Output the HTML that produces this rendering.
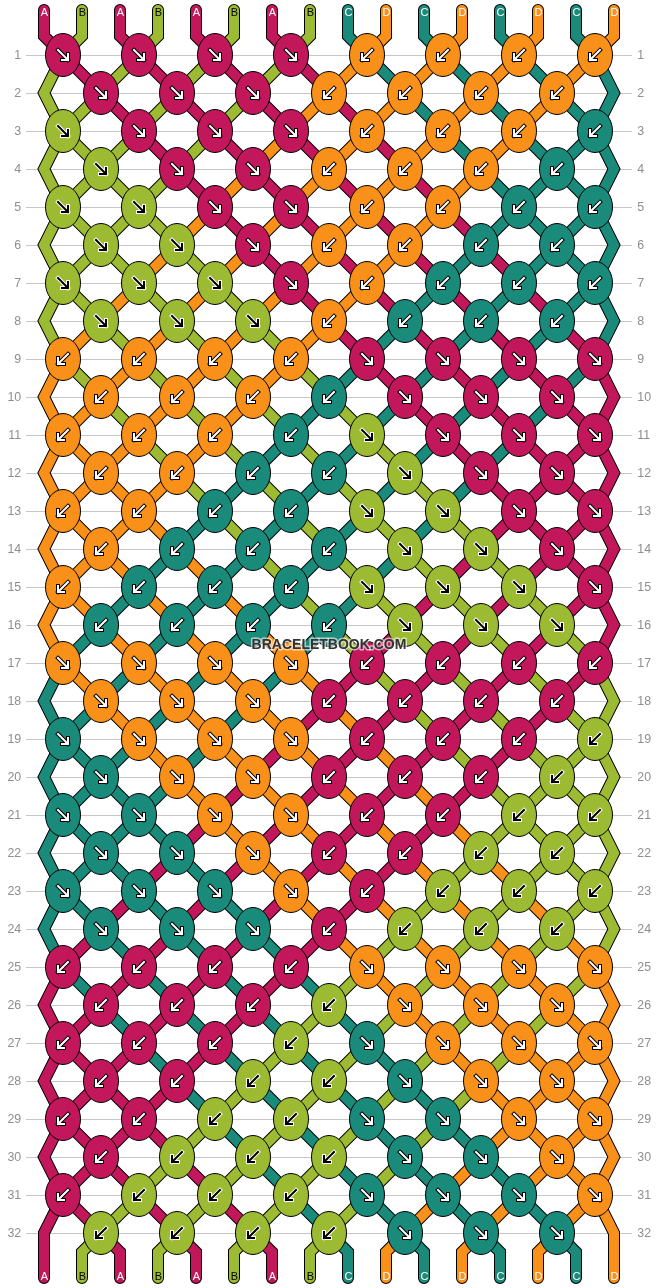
<!DOCTYPE html>
<html><head><meta charset="utf-8"><title>Bracelet pattern</title>
<style>html,body{margin:0;padding:0;background:#fff}svg{display:block}</style>
</head><body>
<svg width="658" height="1288" viewBox="0 0 658 1288">
<rect width="658" height="1288" fill="#fff"/>
<g stroke="#c6c6c6" stroke-width="1">
<line x1="26" y1="55.5" x2="632" y2="55.5"/>
<line x1="26" y1="93.5" x2="632" y2="93.5"/>
<line x1="26" y1="131.5" x2="632" y2="131.5"/>
<line x1="26" y1="169.5" x2="632" y2="169.5"/>
<line x1="26" y1="207.5" x2="632" y2="207.5"/>
<line x1="26" y1="245.5" x2="632" y2="245.5"/>
<line x1="26" y1="283.5" x2="632" y2="283.5"/>
<line x1="26" y1="321.5" x2="632" y2="321.5"/>
<line x1="26" y1="359.5" x2="632" y2="359.5"/>
<line x1="26" y1="397.5" x2="632" y2="397.5"/>
<line x1="26" y1="435.5" x2="632" y2="435.5"/>
<line x1="26" y1="473.5" x2="632" y2="473.5"/>
<line x1="26" y1="511.5" x2="632" y2="511.5"/>
<line x1="26" y1="549.5" x2="632" y2="549.5"/>
<line x1="26" y1="587.5" x2="632" y2="587.5"/>
<line x1="26" y1="625.5" x2="632" y2="625.5"/>
<line x1="26" y1="663.5" x2="632" y2="663.5"/>
<line x1="26" y1="701.5" x2="632" y2="701.5"/>
<line x1="26" y1="739.5" x2="632" y2="739.5"/>
<line x1="26" y1="777.5" x2="632" y2="777.5"/>
<line x1="26" y1="815.5" x2="632" y2="815.5"/>
<line x1="26" y1="853.5" x2="632" y2="853.5"/>
<line x1="26" y1="891.5" x2="632" y2="891.5"/>
<line x1="26" y1="929.5" x2="632" y2="929.5"/>
<line x1="26" y1="967.5" x2="632" y2="967.5"/>
<line x1="26" y1="1005.5" x2="632" y2="1005.5"/>
<line x1="26" y1="1043.5" x2="632" y2="1043.5"/>
<line x1="26" y1="1081.5" x2="632" y2="1081.5"/>
<line x1="26" y1="1119.5" x2="632" y2="1119.5"/>
<line x1="26" y1="1157.5" x2="632" y2="1157.5"/>
<line x1="26" y1="1195.5" x2="632" y2="1195.5"/>
<line x1="26" y1="1233.5" x2="632" y2="1233.5"/>
</g>
<g font-family="Liberation Sans, Arial, sans-serif" font-size="12.4" fill="#8e8e8e">
<text x="21.2" y="59" text-anchor="end">1</text>
<text x="637.3" y="59">1</text>
<text x="21.2" y="97" text-anchor="end">2</text>
<text x="637.3" y="97">2</text>
<text x="21.2" y="135" text-anchor="end">3</text>
<text x="637.3" y="135">3</text>
<text x="21.2" y="173" text-anchor="end">4</text>
<text x="637.3" y="173">4</text>
<text x="21.2" y="211" text-anchor="end">5</text>
<text x="637.3" y="211">5</text>
<text x="21.2" y="249" text-anchor="end">6</text>
<text x="637.3" y="249">6</text>
<text x="21.2" y="287" text-anchor="end">7</text>
<text x="637.3" y="287">7</text>
<text x="21.2" y="325" text-anchor="end">8</text>
<text x="637.3" y="325">8</text>
<text x="21.2" y="363" text-anchor="end">9</text>
<text x="637.3" y="363">9</text>
<text x="21.2" y="401" text-anchor="end">10</text>
<text x="637.3" y="401">10</text>
<text x="21.2" y="439" text-anchor="end">11</text>
<text x="637.3" y="439">11</text>
<text x="21.2" y="477" text-anchor="end">12</text>
<text x="637.3" y="477">12</text>
<text x="21.2" y="515" text-anchor="end">13</text>
<text x="637.3" y="515">13</text>
<text x="21.2" y="553" text-anchor="end">14</text>
<text x="637.3" y="553">14</text>
<text x="21.2" y="591" text-anchor="end">15</text>
<text x="637.3" y="591">15</text>
<text x="21.2" y="629" text-anchor="end">16</text>
<text x="637.3" y="629">16</text>
<text x="21.2" y="667" text-anchor="end">17</text>
<text x="637.3" y="667">17</text>
<text x="21.2" y="705" text-anchor="end">18</text>
<text x="637.3" y="705">18</text>
<text x="21.2" y="743" text-anchor="end">19</text>
<text x="637.3" y="743">19</text>
<text x="21.2" y="781" text-anchor="end">20</text>
<text x="637.3" y="781">20</text>
<text x="21.2" y="819" text-anchor="end">21</text>
<text x="637.3" y="819">21</text>
<text x="21.2" y="857" text-anchor="end">22</text>
<text x="637.3" y="857">22</text>
<text x="21.2" y="895" text-anchor="end">23</text>
<text x="637.3" y="895">23</text>
<text x="21.2" y="933" text-anchor="end">24</text>
<text x="637.3" y="933">24</text>
<text x="21.2" y="971" text-anchor="end">25</text>
<text x="637.3" y="971">25</text>
<text x="21.2" y="1009" text-anchor="end">26</text>
<text x="637.3" y="1009">26</text>
<text x="21.2" y="1047" text-anchor="end">27</text>
<text x="637.3" y="1047">27</text>
<text x="21.2" y="1085" text-anchor="end">28</text>
<text x="637.3" y="1085">28</text>
<text x="21.2" y="1123" text-anchor="end">29</text>
<text x="637.3" y="1123">29</text>
<text x="21.2" y="1161" text-anchor="end">30</text>
<text x="637.3" y="1161">30</text>
<text x="21.2" y="1199" text-anchor="end">31</text>
<text x="637.3" y="1199">31</text>
<text x="21.2" y="1237" text-anchor="end">32</text>
<text x="637.3" y="1237">32</text>
</g>
<g fill="none" stroke-linecap="round" stroke-linejoin="miter" stroke-miterlimit="10">
<path d="M44 10 L44 36 L63 55 L101 93 L139 131 L177 169 L215 207 L253 245 L291 283 L329 321 L367 359 L405 397 L443 435 L481 473 L519 511 L557 549 L595 587 L614 625 L595 663 L557 701 L519 739 L481 777 L443 815 L405 853 L367 891 L329 929 L291 967 L253 1005 L215 1043 L177 1081 L139 1119 L101 1157 L63 1195 L44 1233 L44 1278" stroke="#000" stroke-width="12"/>
<path d="M44 10 L44 36 L63 55 L101 93 L139 131 L177 169 L215 207 L253 245 L291 283 L329 321 L367 359 L405 397 L443 435 L481 473 L519 511 L557 549 L595 587 L614 625 L595 663 L557 701 L519 739 L481 777 L443 815 L405 853 L367 891 L329 929 L291 967 L253 1005 L215 1043 L177 1081 L139 1119 L101 1157 L63 1195 L44 1233 L44 1278" stroke="#C2185B" stroke-width="10"/>
<path d="M82 10 L82 36 L63 55 L44 93 L63 131 L101 169 L139 207 L177 245 L215 283 L253 321 L291 359 L329 397 L367 435 L405 473 L443 511 L481 549 L519 587 L557 625 L595 663 L614 701 L595 739 L557 777 L519 815 L481 853 L443 891 L405 929 L367 967 L329 1005 L291 1043 L253 1081 L215 1119 L177 1157 L139 1195 L101 1233 L82 1252 L82 1278" stroke="#000" stroke-width="12"/>
<path d="M82 10 L82 36 L63 55 L44 93 L63 131 L101 169 L139 207 L177 245 L215 283 L253 321 L291 359 L329 397 L367 435 L405 473 L443 511 L481 549 L519 587 L557 625 L595 663 L614 701 L595 739 L557 777 L519 815 L481 853 L443 891 L405 929 L367 967 L329 1005 L291 1043 L253 1081 L215 1119 L177 1157 L139 1195 L101 1233 L82 1252 L82 1278" stroke="#9CBB33" stroke-width="10"/>
<path d="M120 10 L120 36 L139 55 L177 93 L215 131 L253 169 L291 207 L329 245 L367 283 L405 321 L443 359 L481 397 L519 435 L557 473 L595 511 L614 549 L595 587 L557 625 L519 663 L481 701 L443 739 L405 777 L367 815 L329 853 L291 891 L253 929 L215 967 L177 1005 L139 1043 L101 1081 L63 1119 L44 1157 L63 1195 L101 1233 L120 1252 L120 1278" stroke="#000" stroke-width="12"/>
<path d="M120 10 L120 36 L139 55 L177 93 L215 131 L253 169 L291 207 L329 245 L367 283 L405 321 L443 359 L481 397 L519 435 L557 473 L595 511 L614 549 L595 587 L557 625 L519 663 L481 701 L443 739 L405 777 L367 815 L329 853 L291 891 L253 929 L215 967 L177 1005 L139 1043 L101 1081 L63 1119 L44 1157 L63 1195 L101 1233 L120 1252 L120 1278" stroke="#C2185B" stroke-width="10"/>
<path d="M158 10 L158 36 L139 55 L101 93 L63 131 L44 169 L63 207 L101 245 L139 283 L177 321 L215 359 L253 397 L291 435 L329 473 L367 511 L405 549 L443 587 L481 625 L519 663 L557 701 L595 739 L614 777 L595 815 L557 853 L519 891 L481 929 L443 967 L405 1005 L367 1043 L329 1081 L291 1119 L253 1157 L215 1195 L177 1233 L158 1252 L158 1278" stroke="#000" stroke-width="12"/>
<path d="M158 10 L158 36 L139 55 L101 93 L63 131 L44 169 L63 207 L101 245 L139 283 L177 321 L215 359 L253 397 L291 435 L329 473 L367 511 L405 549 L443 587 L481 625 L519 663 L557 701 L595 739 L614 777 L595 815 L557 853 L519 891 L481 929 L443 967 L405 1005 L367 1043 L329 1081 L291 1119 L253 1157 L215 1195 L177 1233 L158 1252 L158 1278" stroke="#9CBB33" stroke-width="10"/>
<path d="M196 10 L196 36 L215 55 L253 93 L291 131 L329 169 L367 207 L405 245 L443 283 L481 321 L519 359 L557 397 L595 435 L614 473 L595 511 L557 549 L519 587 L481 625 L443 663 L405 701 L367 739 L329 777 L291 815 L253 853 L215 891 L177 929 L139 967 L101 1005 L63 1043 L44 1081 L63 1119 L101 1157 L139 1195 L177 1233 L196 1252 L196 1278" stroke="#000" stroke-width="12"/>
<path d="M196 10 L196 36 L215 55 L253 93 L291 131 L329 169 L367 207 L405 245 L443 283 L481 321 L519 359 L557 397 L595 435 L614 473 L595 511 L557 549 L519 587 L481 625 L443 663 L405 701 L367 739 L329 777 L291 815 L253 853 L215 891 L177 929 L139 967 L101 1005 L63 1043 L44 1081 L63 1119 L101 1157 L139 1195 L177 1233 L196 1252 L196 1278" stroke="#C2185B" stroke-width="10"/>
<path d="M234 10 L234 36 L215 55 L177 93 L139 131 L101 169 L63 207 L44 245 L63 283 L101 321 L139 359 L177 397 L215 435 L253 473 L291 511 L329 549 L367 587 L405 625 L443 663 L481 701 L519 739 L557 777 L595 815 L614 853 L595 891 L557 929 L519 967 L481 1005 L443 1043 L405 1081 L367 1119 L329 1157 L291 1195 L253 1233 L234 1252 L234 1278" stroke="#000" stroke-width="12"/>
<path d="M234 10 L234 36 L215 55 L177 93 L139 131 L101 169 L63 207 L44 245 L63 283 L101 321 L139 359 L177 397 L215 435 L253 473 L291 511 L329 549 L367 587 L405 625 L443 663 L481 701 L519 739 L557 777 L595 815 L614 853 L595 891 L557 929 L519 967 L481 1005 L443 1043 L405 1081 L367 1119 L329 1157 L291 1195 L253 1233 L234 1252 L234 1278" stroke="#9CBB33" stroke-width="10"/>
<path d="M272 10 L272 36 L291 55 L329 93 L367 131 L405 169 L443 207 L481 245 L519 283 L557 321 L595 359 L614 397 L595 435 L557 473 L519 511 L481 549 L443 587 L405 625 L367 663 L329 701 L291 739 L253 777 L215 815 L177 853 L139 891 L101 929 L63 967 L44 1005 L63 1043 L101 1081 L139 1119 L177 1157 L215 1195 L253 1233 L272 1252 L272 1278" stroke="#000" stroke-width="12"/>
<path d="M272 10 L272 36 L291 55 L329 93 L367 131 L405 169 L443 207 L481 245 L519 283 L557 321 L595 359 L614 397 L595 435 L557 473 L519 511 L481 549 L443 587 L405 625 L367 663 L329 701 L291 739 L253 777 L215 815 L177 853 L139 891 L101 929 L63 967 L44 1005 L63 1043 L101 1081 L139 1119 L177 1157 L215 1195 L253 1233 L272 1252 L272 1278" stroke="#C2185B" stroke-width="10"/>
<path d="M310 10 L310 36 L291 55 L253 93 L215 131 L177 169 L139 207 L101 245 L63 283 L44 321 L63 359 L101 397 L139 435 L177 473 L215 511 L253 549 L291 587 L329 625 L367 663 L405 701 L443 739 L481 777 L519 815 L557 853 L595 891 L614 929 L595 967 L557 1005 L519 1043 L481 1081 L443 1119 L405 1157 L367 1195 L329 1233 L310 1252 L310 1278" stroke="#000" stroke-width="12"/>
<path d="M310 10 L310 36 L291 55 L253 93 L215 131 L177 169 L139 207 L101 245 L63 283 L44 321 L63 359 L101 397 L139 435 L177 473 L215 511 L253 549 L291 587 L329 625 L367 663 L405 701 L443 739 L481 777 L519 815 L557 853 L595 891 L614 929 L595 967 L557 1005 L519 1043 L481 1081 L443 1119 L405 1157 L367 1195 L329 1233 L310 1252 L310 1278" stroke="#9CBB33" stroke-width="10"/>
<path d="M348 10 L348 36 L367 55 L405 93 L443 131 L481 169 L519 207 L557 245 L595 283 L614 321 L595 359 L557 397 L519 435 L481 473 L443 511 L405 549 L367 587 L329 625 L291 663 L253 701 L215 739 L177 777 L139 815 L101 853 L63 891 L44 929 L63 967 L101 1005 L139 1043 L177 1081 L215 1119 L253 1157 L291 1195 L329 1233 L348 1252 L348 1278" stroke="#000" stroke-width="12"/>
<path d="M348 10 L348 36 L367 55 L405 93 L443 131 L481 169 L519 207 L557 245 L595 283 L614 321 L595 359 L557 397 L519 435 L481 473 L443 511 L405 549 L367 587 L329 625 L291 663 L253 701 L215 739 L177 777 L139 815 L101 853 L63 891 L44 929 L63 967 L101 1005 L139 1043 L177 1081 L215 1119 L253 1157 L291 1195 L329 1233 L348 1252 L348 1278" stroke="#1A8A7B" stroke-width="10"/>
<path d="M386 10 L386 36 L367 55 L329 93 L291 131 L253 169 L215 207 L177 245 L139 283 L101 321 L63 359 L44 397 L63 435 L101 473 L139 511 L177 549 L215 587 L253 625 L291 663 L329 701 L367 739 L405 777 L443 815 L481 853 L519 891 L557 929 L595 967 L614 1005 L595 1043 L557 1081 L519 1119 L481 1157 L443 1195 L405 1233 L386 1252 L386 1278" stroke="#000" stroke-width="12"/>
<path d="M386 10 L386 36 L367 55 L329 93 L291 131 L253 169 L215 207 L177 245 L139 283 L101 321 L63 359 L44 397 L63 435 L101 473 L139 511 L177 549 L215 587 L253 625 L291 663 L329 701 L367 739 L405 777 L443 815 L481 853 L519 891 L557 929 L595 967 L614 1005 L595 1043 L557 1081 L519 1119 L481 1157 L443 1195 L405 1233 L386 1252 L386 1278" stroke="#F9901A" stroke-width="10"/>
<path d="M424 10 L424 36 L443 55 L481 93 L519 131 L557 169 L595 207 L614 245 L595 283 L557 321 L519 359 L481 397 L443 435 L405 473 L367 511 L329 549 L291 587 L253 625 L215 663 L177 701 L139 739 L101 777 L63 815 L44 853 L63 891 L101 929 L139 967 L177 1005 L215 1043 L253 1081 L291 1119 L329 1157 L367 1195 L405 1233 L424 1252 L424 1278" stroke="#000" stroke-width="12"/>
<path d="M424 10 L424 36 L443 55 L481 93 L519 131 L557 169 L595 207 L614 245 L595 283 L557 321 L519 359 L481 397 L443 435 L405 473 L367 511 L329 549 L291 587 L253 625 L215 663 L177 701 L139 739 L101 777 L63 815 L44 853 L63 891 L101 929 L139 967 L177 1005 L215 1043 L253 1081 L291 1119 L329 1157 L367 1195 L405 1233 L424 1252 L424 1278" stroke="#1A8A7B" stroke-width="10"/>
<path d="M462 10 L462 36 L443 55 L405 93 L367 131 L329 169 L291 207 L253 245 L215 283 L177 321 L139 359 L101 397 L63 435 L44 473 L63 511 L101 549 L139 587 L177 625 L215 663 L253 701 L291 739 L329 777 L367 815 L405 853 L443 891 L481 929 L519 967 L557 1005 L595 1043 L614 1081 L595 1119 L557 1157 L519 1195 L481 1233 L462 1252 L462 1278" stroke="#000" stroke-width="12"/>
<path d="M462 10 L462 36 L443 55 L405 93 L367 131 L329 169 L291 207 L253 245 L215 283 L177 321 L139 359 L101 397 L63 435 L44 473 L63 511 L101 549 L139 587 L177 625 L215 663 L253 701 L291 739 L329 777 L367 815 L405 853 L443 891 L481 929 L519 967 L557 1005 L595 1043 L614 1081 L595 1119 L557 1157 L519 1195 L481 1233 L462 1252 L462 1278" stroke="#F9901A" stroke-width="10"/>
<path d="M500 10 L500 36 L519 55 L557 93 L595 131 L614 169 L595 207 L557 245 L519 283 L481 321 L443 359 L405 397 L367 435 L329 473 L291 511 L253 549 L215 587 L177 625 L139 663 L101 701 L63 739 L44 777 L63 815 L101 853 L139 891 L177 929 L215 967 L253 1005 L291 1043 L329 1081 L367 1119 L405 1157 L443 1195 L481 1233 L500 1252 L500 1278" stroke="#000" stroke-width="12"/>
<path d="M500 10 L500 36 L519 55 L557 93 L595 131 L614 169 L595 207 L557 245 L519 283 L481 321 L443 359 L405 397 L367 435 L329 473 L291 511 L253 549 L215 587 L177 625 L139 663 L101 701 L63 739 L44 777 L63 815 L101 853 L139 891 L177 929 L215 967 L253 1005 L291 1043 L329 1081 L367 1119 L405 1157 L443 1195 L481 1233 L500 1252 L500 1278" stroke="#1A8A7B" stroke-width="10"/>
<path d="M538 10 L538 36 L519 55 L481 93 L443 131 L405 169 L367 207 L329 245 L291 283 L253 321 L215 359 L177 397 L139 435 L101 473 L63 511 L44 549 L63 587 L101 625 L139 663 L177 701 L215 739 L253 777 L291 815 L329 853 L367 891 L405 929 L443 967 L481 1005 L519 1043 L557 1081 L595 1119 L614 1157 L595 1195 L557 1233 L538 1252 L538 1278" stroke="#000" stroke-width="12"/>
<path d="M538 10 L538 36 L519 55 L481 93 L443 131 L405 169 L367 207 L329 245 L291 283 L253 321 L215 359 L177 397 L139 435 L101 473 L63 511 L44 549 L63 587 L101 625 L139 663 L177 701 L215 739 L253 777 L291 815 L329 853 L367 891 L405 929 L443 967 L481 1005 L519 1043 L557 1081 L595 1119 L614 1157 L595 1195 L557 1233 L538 1252 L538 1278" stroke="#F9901A" stroke-width="10"/>
<path d="M576 10 L576 36 L595 55 L614 93 L595 131 L557 169 L519 207 L481 245 L443 283 L405 321 L367 359 L329 397 L291 435 L253 473 L215 511 L177 549 L139 587 L101 625 L63 663 L44 701 L63 739 L101 777 L139 815 L177 853 L215 891 L253 929 L291 967 L329 1005 L367 1043 L405 1081 L443 1119 L481 1157 L519 1195 L557 1233 L576 1252 L576 1278" stroke="#000" stroke-width="12"/>
<path d="M576 10 L576 36 L595 55 L614 93 L595 131 L557 169 L519 207 L481 245 L443 283 L405 321 L367 359 L329 397 L291 435 L253 473 L215 511 L177 549 L139 587 L101 625 L63 663 L44 701 L63 739 L101 777 L139 815 L177 853 L215 891 L253 929 L291 967 L329 1005 L367 1043 L405 1081 L443 1119 L481 1157 L519 1195 L557 1233 L576 1252 L576 1278" stroke="#1A8A7B" stroke-width="10"/>
<path d="M614 10 L614 36 L595 55 L557 93 L519 131 L481 169 L443 207 L405 245 L367 283 L329 321 L291 359 L253 397 L215 435 L177 473 L139 511 L101 549 L63 587 L44 625 L63 663 L101 701 L139 739 L177 777 L215 815 L253 853 L291 891 L329 929 L367 967 L405 1005 L443 1043 L481 1081 L519 1119 L557 1157 L595 1195 L614 1233 L614 1278" stroke="#000" stroke-width="12"/>
<path d="M614 10 L614 36 L595 55 L557 93 L519 131 L481 169 L443 207 L405 245 L367 283 L329 321 L291 359 L253 397 L215 435 L177 473 L139 511 L101 549 L63 587 L44 625 L63 663 L101 701 L139 739 L177 777 L215 815 L253 853 L291 891 L329 929 L367 967 L405 1005 L443 1043 L481 1081 L519 1119 L557 1157 L595 1195 L614 1233 L614 1278" stroke="#F9901A" stroke-width="10"/>
</g>
<g stroke="#000" stroke-width="1">
<ellipse cx="63" cy="55" rx="17.5" ry="21.5" fill="#C2185B"/>
<ellipse cx="139" cy="55" rx="17.5" ry="21.5" fill="#C2185B"/>
<ellipse cx="215" cy="55" rx="17.5" ry="21.5" fill="#C2185B"/>
<ellipse cx="291" cy="55" rx="17.5" ry="21.5" fill="#C2185B"/>
<ellipse cx="367" cy="55" rx="17.5" ry="21.5" fill="#F9901A"/>
<ellipse cx="443" cy="55" rx="17.5" ry="21.5" fill="#F9901A"/>
<ellipse cx="519" cy="55" rx="17.5" ry="21.5" fill="#F9901A"/>
<ellipse cx="595" cy="55" rx="17.5" ry="21.5" fill="#F9901A"/>
<ellipse cx="101" cy="93" rx="17.5" ry="21.5" fill="#C2185B"/>
<ellipse cx="177" cy="93" rx="17.5" ry="21.5" fill="#C2185B"/>
<ellipse cx="253" cy="93" rx="17.5" ry="21.5" fill="#C2185B"/>
<ellipse cx="329" cy="93" rx="17.5" ry="21.5" fill="#F9901A"/>
<ellipse cx="405" cy="93" rx="17.5" ry="21.5" fill="#F9901A"/>
<ellipse cx="481" cy="93" rx="17.5" ry="21.5" fill="#F9901A"/>
<ellipse cx="557" cy="93" rx="17.5" ry="21.5" fill="#F9901A"/>
<ellipse cx="63" cy="131" rx="17.5" ry="21.5" fill="#9CBB33"/>
<ellipse cx="139" cy="131" rx="17.5" ry="21.5" fill="#C2185B"/>
<ellipse cx="215" cy="131" rx="17.5" ry="21.5" fill="#C2185B"/>
<ellipse cx="291" cy="131" rx="17.5" ry="21.5" fill="#C2185B"/>
<ellipse cx="367" cy="131" rx="17.5" ry="21.5" fill="#F9901A"/>
<ellipse cx="443" cy="131" rx="17.5" ry="21.5" fill="#F9901A"/>
<ellipse cx="519" cy="131" rx="17.5" ry="21.5" fill="#F9901A"/>
<ellipse cx="595" cy="131" rx="17.5" ry="21.5" fill="#1A8A7B"/>
<ellipse cx="101" cy="169" rx="17.5" ry="21.5" fill="#9CBB33"/>
<ellipse cx="177" cy="169" rx="17.5" ry="21.5" fill="#C2185B"/>
<ellipse cx="253" cy="169" rx="17.5" ry="21.5" fill="#C2185B"/>
<ellipse cx="329" cy="169" rx="17.5" ry="21.5" fill="#F9901A"/>
<ellipse cx="405" cy="169" rx="17.5" ry="21.5" fill="#F9901A"/>
<ellipse cx="481" cy="169" rx="17.5" ry="21.5" fill="#F9901A"/>
<ellipse cx="557" cy="169" rx="17.5" ry="21.5" fill="#1A8A7B"/>
<ellipse cx="63" cy="207" rx="17.5" ry="21.5" fill="#9CBB33"/>
<ellipse cx="139" cy="207" rx="17.5" ry="21.5" fill="#9CBB33"/>
<ellipse cx="215" cy="207" rx="17.5" ry="21.5" fill="#C2185B"/>
<ellipse cx="291" cy="207" rx="17.5" ry="21.5" fill="#C2185B"/>
<ellipse cx="367" cy="207" rx="17.5" ry="21.5" fill="#F9901A"/>
<ellipse cx="443" cy="207" rx="17.5" ry="21.5" fill="#F9901A"/>
<ellipse cx="519" cy="207" rx="17.5" ry="21.5" fill="#1A8A7B"/>
<ellipse cx="595" cy="207" rx="17.5" ry="21.5" fill="#1A8A7B"/>
<ellipse cx="101" cy="245" rx="17.5" ry="21.5" fill="#9CBB33"/>
<ellipse cx="177" cy="245" rx="17.5" ry="21.5" fill="#9CBB33"/>
<ellipse cx="253" cy="245" rx="17.5" ry="21.5" fill="#C2185B"/>
<ellipse cx="329" cy="245" rx="17.5" ry="21.5" fill="#F9901A"/>
<ellipse cx="405" cy="245" rx="17.5" ry="21.5" fill="#F9901A"/>
<ellipse cx="481" cy="245" rx="17.5" ry="21.5" fill="#1A8A7B"/>
<ellipse cx="557" cy="245" rx="17.5" ry="21.5" fill="#1A8A7B"/>
<ellipse cx="63" cy="283" rx="17.5" ry="21.5" fill="#9CBB33"/>
<ellipse cx="139" cy="283" rx="17.5" ry="21.5" fill="#9CBB33"/>
<ellipse cx="215" cy="283" rx="17.5" ry="21.5" fill="#9CBB33"/>
<ellipse cx="291" cy="283" rx="17.5" ry="21.5" fill="#C2185B"/>
<ellipse cx="367" cy="283" rx="17.5" ry="21.5" fill="#F9901A"/>
<ellipse cx="443" cy="283" rx="17.5" ry="21.5" fill="#1A8A7B"/>
<ellipse cx="519" cy="283" rx="17.5" ry="21.5" fill="#1A8A7B"/>
<ellipse cx="595" cy="283" rx="17.5" ry="21.5" fill="#1A8A7B"/>
<ellipse cx="101" cy="321" rx="17.5" ry="21.5" fill="#9CBB33"/>
<ellipse cx="177" cy="321" rx="17.5" ry="21.5" fill="#9CBB33"/>
<ellipse cx="253" cy="321" rx="17.5" ry="21.5" fill="#9CBB33"/>
<ellipse cx="329" cy="321" rx="17.5" ry="21.5" fill="#F9901A"/>
<ellipse cx="405" cy="321" rx="17.5" ry="21.5" fill="#1A8A7B"/>
<ellipse cx="481" cy="321" rx="17.5" ry="21.5" fill="#1A8A7B"/>
<ellipse cx="557" cy="321" rx="17.5" ry="21.5" fill="#1A8A7B"/>
<ellipse cx="63" cy="359" rx="17.5" ry="21.5" fill="#F9901A"/>
<ellipse cx="139" cy="359" rx="17.5" ry="21.5" fill="#F9901A"/>
<ellipse cx="215" cy="359" rx="17.5" ry="21.5" fill="#F9901A"/>
<ellipse cx="291" cy="359" rx="17.5" ry="21.5" fill="#F9901A"/>
<ellipse cx="367" cy="359" rx="17.5" ry="21.5" fill="#C2185B"/>
<ellipse cx="443" cy="359" rx="17.5" ry="21.5" fill="#C2185B"/>
<ellipse cx="519" cy="359" rx="17.5" ry="21.5" fill="#C2185B"/>
<ellipse cx="595" cy="359" rx="17.5" ry="21.5" fill="#C2185B"/>
<ellipse cx="101" cy="397" rx="17.5" ry="21.5" fill="#F9901A"/>
<ellipse cx="177" cy="397" rx="17.5" ry="21.5" fill="#F9901A"/>
<ellipse cx="253" cy="397" rx="17.5" ry="21.5" fill="#F9901A"/>
<ellipse cx="329" cy="397" rx="17.5" ry="21.5" fill="#1A8A7B"/>
<ellipse cx="405" cy="397" rx="17.5" ry="21.5" fill="#C2185B"/>
<ellipse cx="481" cy="397" rx="17.5" ry="21.5" fill="#C2185B"/>
<ellipse cx="557" cy="397" rx="17.5" ry="21.5" fill="#C2185B"/>
<ellipse cx="63" cy="435" rx="17.5" ry="21.5" fill="#F9901A"/>
<ellipse cx="139" cy="435" rx="17.5" ry="21.5" fill="#F9901A"/>
<ellipse cx="215" cy="435" rx="17.5" ry="21.5" fill="#F9901A"/>
<ellipse cx="291" cy="435" rx="17.5" ry="21.5" fill="#1A8A7B"/>
<ellipse cx="367" cy="435" rx="17.5" ry="21.5" fill="#9CBB33"/>
<ellipse cx="443" cy="435" rx="17.5" ry="21.5" fill="#C2185B"/>
<ellipse cx="519" cy="435" rx="17.5" ry="21.5" fill="#C2185B"/>
<ellipse cx="595" cy="435" rx="17.5" ry="21.5" fill="#C2185B"/>
<ellipse cx="101" cy="473" rx="17.5" ry="21.5" fill="#F9901A"/>
<ellipse cx="177" cy="473" rx="17.5" ry="21.5" fill="#F9901A"/>
<ellipse cx="253" cy="473" rx="17.5" ry="21.5" fill="#1A8A7B"/>
<ellipse cx="329" cy="473" rx="17.5" ry="21.5" fill="#1A8A7B"/>
<ellipse cx="405" cy="473" rx="17.5" ry="21.5" fill="#9CBB33"/>
<ellipse cx="481" cy="473" rx="17.5" ry="21.5" fill="#C2185B"/>
<ellipse cx="557" cy="473" rx="17.5" ry="21.5" fill="#C2185B"/>
<ellipse cx="63" cy="511" rx="17.5" ry="21.5" fill="#F9901A"/>
<ellipse cx="139" cy="511" rx="17.5" ry="21.5" fill="#F9901A"/>
<ellipse cx="215" cy="511" rx="17.5" ry="21.5" fill="#1A8A7B"/>
<ellipse cx="291" cy="511" rx="17.5" ry="21.5" fill="#1A8A7B"/>
<ellipse cx="367" cy="511" rx="17.5" ry="21.5" fill="#9CBB33"/>
<ellipse cx="443" cy="511" rx="17.5" ry="21.5" fill="#9CBB33"/>
<ellipse cx="519" cy="511" rx="17.5" ry="21.5" fill="#C2185B"/>
<ellipse cx="595" cy="511" rx="17.5" ry="21.5" fill="#C2185B"/>
<ellipse cx="101" cy="549" rx="17.5" ry="21.5" fill="#F9901A"/>
<ellipse cx="177" cy="549" rx="17.5" ry="21.5" fill="#1A8A7B"/>
<ellipse cx="253" cy="549" rx="17.5" ry="21.5" fill="#1A8A7B"/>
<ellipse cx="329" cy="549" rx="17.5" ry="21.5" fill="#1A8A7B"/>
<ellipse cx="405" cy="549" rx="17.5" ry="21.5" fill="#9CBB33"/>
<ellipse cx="481" cy="549" rx="17.5" ry="21.5" fill="#9CBB33"/>
<ellipse cx="557" cy="549" rx="17.5" ry="21.5" fill="#C2185B"/>
<ellipse cx="63" cy="587" rx="17.5" ry="21.5" fill="#F9901A"/>
<ellipse cx="139" cy="587" rx="17.5" ry="21.5" fill="#1A8A7B"/>
<ellipse cx="215" cy="587" rx="17.5" ry="21.5" fill="#1A8A7B"/>
<ellipse cx="291" cy="587" rx="17.5" ry="21.5" fill="#1A8A7B"/>
<ellipse cx="367" cy="587" rx="17.5" ry="21.5" fill="#9CBB33"/>
<ellipse cx="443" cy="587" rx="17.5" ry="21.5" fill="#9CBB33"/>
<ellipse cx="519" cy="587" rx="17.5" ry="21.5" fill="#9CBB33"/>
<ellipse cx="595" cy="587" rx="17.5" ry="21.5" fill="#C2185B"/>
<ellipse cx="101" cy="625" rx="17.5" ry="21.5" fill="#1A8A7B"/>
<ellipse cx="177" cy="625" rx="17.5" ry="21.5" fill="#1A8A7B"/>
<ellipse cx="253" cy="625" rx="17.5" ry="21.5" fill="#1A8A7B"/>
<ellipse cx="329" cy="625" rx="17.5" ry="21.5" fill="#1A8A7B"/>
<ellipse cx="405" cy="625" rx="17.5" ry="21.5" fill="#9CBB33"/>
<ellipse cx="481" cy="625" rx="17.5" ry="21.5" fill="#9CBB33"/>
<ellipse cx="557" cy="625" rx="17.5" ry="21.5" fill="#9CBB33"/>
<ellipse cx="63" cy="663" rx="17.5" ry="21.5" fill="#F9901A"/>
<ellipse cx="139" cy="663" rx="17.5" ry="21.5" fill="#F9901A"/>
<ellipse cx="215" cy="663" rx="17.5" ry="21.5" fill="#F9901A"/>
<ellipse cx="291" cy="663" rx="17.5" ry="21.5" fill="#F9901A"/>
<ellipse cx="367" cy="663" rx="17.5" ry="21.5" fill="#C2185B"/>
<ellipse cx="443" cy="663" rx="17.5" ry="21.5" fill="#C2185B"/>
<ellipse cx="519" cy="663" rx="17.5" ry="21.5" fill="#C2185B"/>
<ellipse cx="595" cy="663" rx="17.5" ry="21.5" fill="#C2185B"/>
<ellipse cx="101" cy="701" rx="17.5" ry="21.5" fill="#F9901A"/>
<ellipse cx="177" cy="701" rx="17.5" ry="21.5" fill="#F9901A"/>
<ellipse cx="253" cy="701" rx="17.5" ry="21.5" fill="#F9901A"/>
<ellipse cx="329" cy="701" rx="17.5" ry="21.5" fill="#C2185B"/>
<ellipse cx="405" cy="701" rx="17.5" ry="21.5" fill="#C2185B"/>
<ellipse cx="481" cy="701" rx="17.5" ry="21.5" fill="#C2185B"/>
<ellipse cx="557" cy="701" rx="17.5" ry="21.5" fill="#C2185B"/>
<ellipse cx="63" cy="739" rx="17.5" ry="21.5" fill="#1A8A7B"/>
<ellipse cx="139" cy="739" rx="17.5" ry="21.5" fill="#F9901A"/>
<ellipse cx="215" cy="739" rx="17.5" ry="21.5" fill="#F9901A"/>
<ellipse cx="291" cy="739" rx="17.5" ry="21.5" fill="#F9901A"/>
<ellipse cx="367" cy="739" rx="17.5" ry="21.5" fill="#C2185B"/>
<ellipse cx="443" cy="739" rx="17.5" ry="21.5" fill="#C2185B"/>
<ellipse cx="519" cy="739" rx="17.5" ry="21.5" fill="#C2185B"/>
<ellipse cx="595" cy="739" rx="17.5" ry="21.5" fill="#9CBB33"/>
<ellipse cx="101" cy="777" rx="17.5" ry="21.5" fill="#1A8A7B"/>
<ellipse cx="177" cy="777" rx="17.5" ry="21.5" fill="#F9901A"/>
<ellipse cx="253" cy="777" rx="17.5" ry="21.5" fill="#F9901A"/>
<ellipse cx="329" cy="777" rx="17.5" ry="21.5" fill="#C2185B"/>
<ellipse cx="405" cy="777" rx="17.5" ry="21.5" fill="#C2185B"/>
<ellipse cx="481" cy="777" rx="17.5" ry="21.5" fill="#C2185B"/>
<ellipse cx="557" cy="777" rx="17.5" ry="21.5" fill="#9CBB33"/>
<ellipse cx="63" cy="815" rx="17.5" ry="21.5" fill="#1A8A7B"/>
<ellipse cx="139" cy="815" rx="17.5" ry="21.5" fill="#1A8A7B"/>
<ellipse cx="215" cy="815" rx="17.5" ry="21.5" fill="#F9901A"/>
<ellipse cx="291" cy="815" rx="17.5" ry="21.5" fill="#F9901A"/>
<ellipse cx="367" cy="815" rx="17.5" ry="21.5" fill="#C2185B"/>
<ellipse cx="443" cy="815" rx="17.5" ry="21.5" fill="#C2185B"/>
<ellipse cx="519" cy="815" rx="17.5" ry="21.5" fill="#9CBB33"/>
<ellipse cx="595" cy="815" rx="17.5" ry="21.5" fill="#9CBB33"/>
<ellipse cx="101" cy="853" rx="17.5" ry="21.5" fill="#1A8A7B"/>
<ellipse cx="177" cy="853" rx="17.5" ry="21.5" fill="#1A8A7B"/>
<ellipse cx="253" cy="853" rx="17.5" ry="21.5" fill="#F9901A"/>
<ellipse cx="329" cy="853" rx="17.5" ry="21.5" fill="#C2185B"/>
<ellipse cx="405" cy="853" rx="17.5" ry="21.5" fill="#C2185B"/>
<ellipse cx="481" cy="853" rx="17.5" ry="21.5" fill="#9CBB33"/>
<ellipse cx="557" cy="853" rx="17.5" ry="21.5" fill="#9CBB33"/>
<ellipse cx="63" cy="891" rx="17.5" ry="21.5" fill="#1A8A7B"/>
<ellipse cx="139" cy="891" rx="17.5" ry="21.5" fill="#1A8A7B"/>
<ellipse cx="215" cy="891" rx="17.5" ry="21.5" fill="#1A8A7B"/>
<ellipse cx="291" cy="891" rx="17.5" ry="21.5" fill="#F9901A"/>
<ellipse cx="367" cy="891" rx="17.5" ry="21.5" fill="#C2185B"/>
<ellipse cx="443" cy="891" rx="17.5" ry="21.5" fill="#9CBB33"/>
<ellipse cx="519" cy="891" rx="17.5" ry="21.5" fill="#9CBB33"/>
<ellipse cx="595" cy="891" rx="17.5" ry="21.5" fill="#9CBB33"/>
<ellipse cx="101" cy="929" rx="17.5" ry="21.5" fill="#1A8A7B"/>
<ellipse cx="177" cy="929" rx="17.5" ry="21.5" fill="#1A8A7B"/>
<ellipse cx="253" cy="929" rx="17.5" ry="21.5" fill="#1A8A7B"/>
<ellipse cx="329" cy="929" rx="17.5" ry="21.5" fill="#C2185B"/>
<ellipse cx="405" cy="929" rx="17.5" ry="21.5" fill="#9CBB33"/>
<ellipse cx="481" cy="929" rx="17.5" ry="21.5" fill="#9CBB33"/>
<ellipse cx="557" cy="929" rx="17.5" ry="21.5" fill="#9CBB33"/>
<ellipse cx="63" cy="967" rx="17.5" ry="21.5" fill="#C2185B"/>
<ellipse cx="139" cy="967" rx="17.5" ry="21.5" fill="#C2185B"/>
<ellipse cx="215" cy="967" rx="17.5" ry="21.5" fill="#C2185B"/>
<ellipse cx="291" cy="967" rx="17.5" ry="21.5" fill="#C2185B"/>
<ellipse cx="367" cy="967" rx="17.5" ry="21.5" fill="#F9901A"/>
<ellipse cx="443" cy="967" rx="17.5" ry="21.5" fill="#F9901A"/>
<ellipse cx="519" cy="967" rx="17.5" ry="21.5" fill="#F9901A"/>
<ellipse cx="595" cy="967" rx="17.5" ry="21.5" fill="#F9901A"/>
<ellipse cx="101" cy="1005" rx="17.5" ry="21.5" fill="#C2185B"/>
<ellipse cx="177" cy="1005" rx="17.5" ry="21.5" fill="#C2185B"/>
<ellipse cx="253" cy="1005" rx="17.5" ry="21.5" fill="#C2185B"/>
<ellipse cx="329" cy="1005" rx="17.5" ry="21.5" fill="#9CBB33"/>
<ellipse cx="405" cy="1005" rx="17.5" ry="21.5" fill="#F9901A"/>
<ellipse cx="481" cy="1005" rx="17.5" ry="21.5" fill="#F9901A"/>
<ellipse cx="557" cy="1005" rx="17.5" ry="21.5" fill="#F9901A"/>
<ellipse cx="63" cy="1043" rx="17.5" ry="21.5" fill="#C2185B"/>
<ellipse cx="139" cy="1043" rx="17.5" ry="21.5" fill="#C2185B"/>
<ellipse cx="215" cy="1043" rx="17.5" ry="21.5" fill="#C2185B"/>
<ellipse cx="291" cy="1043" rx="17.5" ry="21.5" fill="#9CBB33"/>
<ellipse cx="367" cy="1043" rx="17.5" ry="21.5" fill="#1A8A7B"/>
<ellipse cx="443" cy="1043" rx="17.5" ry="21.5" fill="#F9901A"/>
<ellipse cx="519" cy="1043" rx="17.5" ry="21.5" fill="#F9901A"/>
<ellipse cx="595" cy="1043" rx="17.5" ry="21.5" fill="#F9901A"/>
<ellipse cx="101" cy="1081" rx="17.5" ry="21.5" fill="#C2185B"/>
<ellipse cx="177" cy="1081" rx="17.5" ry="21.5" fill="#C2185B"/>
<ellipse cx="253" cy="1081" rx="17.5" ry="21.5" fill="#9CBB33"/>
<ellipse cx="329" cy="1081" rx="17.5" ry="21.5" fill="#9CBB33"/>
<ellipse cx="405" cy="1081" rx="17.5" ry="21.5" fill="#1A8A7B"/>
<ellipse cx="481" cy="1081" rx="17.5" ry="21.5" fill="#F9901A"/>
<ellipse cx="557" cy="1081" rx="17.5" ry="21.5" fill="#F9901A"/>
<ellipse cx="63" cy="1119" rx="17.5" ry="21.5" fill="#C2185B"/>
<ellipse cx="139" cy="1119" rx="17.5" ry="21.5" fill="#C2185B"/>
<ellipse cx="215" cy="1119" rx="17.5" ry="21.5" fill="#9CBB33"/>
<ellipse cx="291" cy="1119" rx="17.5" ry="21.5" fill="#9CBB33"/>
<ellipse cx="367" cy="1119" rx="17.5" ry="21.5" fill="#1A8A7B"/>
<ellipse cx="443" cy="1119" rx="17.5" ry="21.5" fill="#1A8A7B"/>
<ellipse cx="519" cy="1119" rx="17.5" ry="21.5" fill="#F9901A"/>
<ellipse cx="595" cy="1119" rx="17.5" ry="21.5" fill="#F9901A"/>
<ellipse cx="101" cy="1157" rx="17.5" ry="21.5" fill="#C2185B"/>
<ellipse cx="177" cy="1157" rx="17.5" ry="21.5" fill="#9CBB33"/>
<ellipse cx="253" cy="1157" rx="17.5" ry="21.5" fill="#9CBB33"/>
<ellipse cx="329" cy="1157" rx="17.5" ry="21.5" fill="#9CBB33"/>
<ellipse cx="405" cy="1157" rx="17.5" ry="21.5" fill="#1A8A7B"/>
<ellipse cx="481" cy="1157" rx="17.5" ry="21.5" fill="#1A8A7B"/>
<ellipse cx="557" cy="1157" rx="17.5" ry="21.5" fill="#F9901A"/>
<ellipse cx="63" cy="1195" rx="17.5" ry="21.5" fill="#C2185B"/>
<ellipse cx="139" cy="1195" rx="17.5" ry="21.5" fill="#9CBB33"/>
<ellipse cx="215" cy="1195" rx="17.5" ry="21.5" fill="#9CBB33"/>
<ellipse cx="291" cy="1195" rx="17.5" ry="21.5" fill="#9CBB33"/>
<ellipse cx="367" cy="1195" rx="17.5" ry="21.5" fill="#1A8A7B"/>
<ellipse cx="443" cy="1195" rx="17.5" ry="21.5" fill="#1A8A7B"/>
<ellipse cx="519" cy="1195" rx="17.5" ry="21.5" fill="#1A8A7B"/>
<ellipse cx="595" cy="1195" rx="17.5" ry="21.5" fill="#F9901A"/>
<ellipse cx="101" cy="1233" rx="17.5" ry="21.5" fill="#9CBB33"/>
<ellipse cx="177" cy="1233" rx="17.5" ry="21.5" fill="#9CBB33"/>
<ellipse cx="253" cy="1233" rx="17.5" ry="21.5" fill="#9CBB33"/>
<ellipse cx="329" cy="1233" rx="17.5" ry="21.5" fill="#9CBB33"/>
<ellipse cx="405" cy="1233" rx="17.5" ry="21.5" fill="#1A8A7B"/>
<ellipse cx="481" cy="1233" rx="17.5" ry="21.5" fill="#1A8A7B"/>
<ellipse cx="557" cy="1233" rx="17.5" ry="21.5" fill="#1A8A7B"/>
</g>
<g fill="none" stroke-linecap="square" stroke-linejoin="miter">
<g transform="translate(63 55)"><path d="M-5 -5L5 5M-1 5H5V-1" stroke="#000" stroke-width="4"/><path d="M-5 -5L5 5M-1 5H5V-1" stroke="#fff" stroke-width="2"/></g>
<g transform="translate(139 55)"><path d="M-5 -5L5 5M-1 5H5V-1" stroke="#000" stroke-width="4"/><path d="M-5 -5L5 5M-1 5H5V-1" stroke="#fff" stroke-width="2"/></g>
<g transform="translate(215 55)"><path d="M-5 -5L5 5M-1 5H5V-1" stroke="#000" stroke-width="4"/><path d="M-5 -5L5 5M-1 5H5V-1" stroke="#fff" stroke-width="2"/></g>
<g transform="translate(291 55)"><path d="M-5 -5L5 5M-1 5H5V-1" stroke="#000" stroke-width="4"/><path d="M-5 -5L5 5M-1 5H5V-1" stroke="#fff" stroke-width="2"/></g>
<g transform="translate(367 55)"><path d="M5 -5L-5 5M1 5H-5V-1" stroke="#000" stroke-width="4"/><path d="M5 -5L-5 5M1 5H-5V-1" stroke="#fff" stroke-width="2"/></g>
<g transform="translate(443 55)"><path d="M5 -5L-5 5M1 5H-5V-1" stroke="#000" stroke-width="4"/><path d="M5 -5L-5 5M1 5H-5V-1" stroke="#fff" stroke-width="2"/></g>
<g transform="translate(519 55)"><path d="M5 -5L-5 5M1 5H-5V-1" stroke="#000" stroke-width="4"/><path d="M5 -5L-5 5M1 5H-5V-1" stroke="#fff" stroke-width="2"/></g>
<g transform="translate(595 55)"><path d="M5 -5L-5 5M1 5H-5V-1" stroke="#000" stroke-width="4"/><path d="M5 -5L-5 5M1 5H-5V-1" stroke="#fff" stroke-width="2"/></g>
<g transform="translate(101 93)"><path d="M-5 -5L5 5M-1 5H5V-1" stroke="#000" stroke-width="4"/><path d="M-5 -5L5 5M-1 5H5V-1" stroke="#fff" stroke-width="2"/></g>
<g transform="translate(177 93)"><path d="M-5 -5L5 5M-1 5H5V-1" stroke="#000" stroke-width="4"/><path d="M-5 -5L5 5M-1 5H5V-1" stroke="#fff" stroke-width="2"/></g>
<g transform="translate(253 93)"><path d="M-5 -5L5 5M-1 5H5V-1" stroke="#000" stroke-width="4"/><path d="M-5 -5L5 5M-1 5H5V-1" stroke="#fff" stroke-width="2"/></g>
<g transform="translate(329 93)"><path d="M5 -5L-5 5M1 5H-5V-1" stroke="#000" stroke-width="4"/><path d="M5 -5L-5 5M1 5H-5V-1" stroke="#fff" stroke-width="2"/></g>
<g transform="translate(405 93)"><path d="M5 -5L-5 5M1 5H-5V-1" stroke="#000" stroke-width="4"/><path d="M5 -5L-5 5M1 5H-5V-1" stroke="#fff" stroke-width="2"/></g>
<g transform="translate(481 93)"><path d="M5 -5L-5 5M1 5H-5V-1" stroke="#000" stroke-width="4"/><path d="M5 -5L-5 5M1 5H-5V-1" stroke="#fff" stroke-width="2"/></g>
<g transform="translate(557 93)"><path d="M5 -5L-5 5M1 5H-5V-1" stroke="#000" stroke-width="4"/><path d="M5 -5L-5 5M1 5H-5V-1" stroke="#fff" stroke-width="2"/></g>
<g transform="translate(63 131)"><path d="M-5 -5L5 5M-1 5H5V-1" stroke="#fff" stroke-width="4"/><path d="M-5 -5L5 5M-1 5H5V-1" stroke="#000" stroke-width="2"/></g>
<g transform="translate(139 131)"><path d="M-5 -5L5 5M-1 5H5V-1" stroke="#000" stroke-width="4"/><path d="M-5 -5L5 5M-1 5H5V-1" stroke="#fff" stroke-width="2"/></g>
<g transform="translate(215 131)"><path d="M-5 -5L5 5M-1 5H5V-1" stroke="#000" stroke-width="4"/><path d="M-5 -5L5 5M-1 5H5V-1" stroke="#fff" stroke-width="2"/></g>
<g transform="translate(291 131)"><path d="M-5 -5L5 5M-1 5H5V-1" stroke="#000" stroke-width="4"/><path d="M-5 -5L5 5M-1 5H5V-1" stroke="#fff" stroke-width="2"/></g>
<g transform="translate(367 131)"><path d="M5 -5L-5 5M1 5H-5V-1" stroke="#000" stroke-width="4"/><path d="M5 -5L-5 5M1 5H-5V-1" stroke="#fff" stroke-width="2"/></g>
<g transform="translate(443 131)"><path d="M5 -5L-5 5M1 5H-5V-1" stroke="#000" stroke-width="4"/><path d="M5 -5L-5 5M1 5H-5V-1" stroke="#fff" stroke-width="2"/></g>
<g transform="translate(519 131)"><path d="M5 -5L-5 5M1 5H-5V-1" stroke="#000" stroke-width="4"/><path d="M5 -5L-5 5M1 5H-5V-1" stroke="#fff" stroke-width="2"/></g>
<g transform="translate(595 131)"><path d="M5 -5L-5 5M1 5H-5V-1" stroke="#000" stroke-width="4"/><path d="M5 -5L-5 5M1 5H-5V-1" stroke="#fff" stroke-width="2"/></g>
<g transform="translate(101 169)"><path d="M-5 -5L5 5M-1 5H5V-1" stroke="#fff" stroke-width="4"/><path d="M-5 -5L5 5M-1 5H5V-1" stroke="#000" stroke-width="2"/></g>
<g transform="translate(177 169)"><path d="M-5 -5L5 5M-1 5H5V-1" stroke="#000" stroke-width="4"/><path d="M-5 -5L5 5M-1 5H5V-1" stroke="#fff" stroke-width="2"/></g>
<g transform="translate(253 169)"><path d="M-5 -5L5 5M-1 5H5V-1" stroke="#000" stroke-width="4"/><path d="M-5 -5L5 5M-1 5H5V-1" stroke="#fff" stroke-width="2"/></g>
<g transform="translate(329 169)"><path d="M5 -5L-5 5M1 5H-5V-1" stroke="#000" stroke-width="4"/><path d="M5 -5L-5 5M1 5H-5V-1" stroke="#fff" stroke-width="2"/></g>
<g transform="translate(405 169)"><path d="M5 -5L-5 5M1 5H-5V-1" stroke="#000" stroke-width="4"/><path d="M5 -5L-5 5M1 5H-5V-1" stroke="#fff" stroke-width="2"/></g>
<g transform="translate(481 169)"><path d="M5 -5L-5 5M1 5H-5V-1" stroke="#000" stroke-width="4"/><path d="M5 -5L-5 5M1 5H-5V-1" stroke="#fff" stroke-width="2"/></g>
<g transform="translate(557 169)"><path d="M5 -5L-5 5M1 5H-5V-1" stroke="#000" stroke-width="4"/><path d="M5 -5L-5 5M1 5H-5V-1" stroke="#fff" stroke-width="2"/></g>
<g transform="translate(63 207)"><path d="M-5 -5L5 5M-1 5H5V-1" stroke="#fff" stroke-width="4"/><path d="M-5 -5L5 5M-1 5H5V-1" stroke="#000" stroke-width="2"/></g>
<g transform="translate(139 207)"><path d="M-5 -5L5 5M-1 5H5V-1" stroke="#fff" stroke-width="4"/><path d="M-5 -5L5 5M-1 5H5V-1" stroke="#000" stroke-width="2"/></g>
<g transform="translate(215 207)"><path d="M-5 -5L5 5M-1 5H5V-1" stroke="#000" stroke-width="4"/><path d="M-5 -5L5 5M-1 5H5V-1" stroke="#fff" stroke-width="2"/></g>
<g transform="translate(291 207)"><path d="M-5 -5L5 5M-1 5H5V-1" stroke="#000" stroke-width="4"/><path d="M-5 -5L5 5M-1 5H5V-1" stroke="#fff" stroke-width="2"/></g>
<g transform="translate(367 207)"><path d="M5 -5L-5 5M1 5H-5V-1" stroke="#000" stroke-width="4"/><path d="M5 -5L-5 5M1 5H-5V-1" stroke="#fff" stroke-width="2"/></g>
<g transform="translate(443 207)"><path d="M5 -5L-5 5M1 5H-5V-1" stroke="#000" stroke-width="4"/><path d="M5 -5L-5 5M1 5H-5V-1" stroke="#fff" stroke-width="2"/></g>
<g transform="translate(519 207)"><path d="M5 -5L-5 5M1 5H-5V-1" stroke="#000" stroke-width="4"/><path d="M5 -5L-5 5M1 5H-5V-1" stroke="#fff" stroke-width="2"/></g>
<g transform="translate(595 207)"><path d="M5 -5L-5 5M1 5H-5V-1" stroke="#000" stroke-width="4"/><path d="M5 -5L-5 5M1 5H-5V-1" stroke="#fff" stroke-width="2"/></g>
<g transform="translate(101 245)"><path d="M-5 -5L5 5M-1 5H5V-1" stroke="#fff" stroke-width="4"/><path d="M-5 -5L5 5M-1 5H5V-1" stroke="#000" stroke-width="2"/></g>
<g transform="translate(177 245)"><path d="M-5 -5L5 5M-1 5H5V-1" stroke="#fff" stroke-width="4"/><path d="M-5 -5L5 5M-1 5H5V-1" stroke="#000" stroke-width="2"/></g>
<g transform="translate(253 245)"><path d="M-5 -5L5 5M-1 5H5V-1" stroke="#000" stroke-width="4"/><path d="M-5 -5L5 5M-1 5H5V-1" stroke="#fff" stroke-width="2"/></g>
<g transform="translate(329 245)"><path d="M5 -5L-5 5M1 5H-5V-1" stroke="#000" stroke-width="4"/><path d="M5 -5L-5 5M1 5H-5V-1" stroke="#fff" stroke-width="2"/></g>
<g transform="translate(405 245)"><path d="M5 -5L-5 5M1 5H-5V-1" stroke="#000" stroke-width="4"/><path d="M5 -5L-5 5M1 5H-5V-1" stroke="#fff" stroke-width="2"/></g>
<g transform="translate(481 245)"><path d="M5 -5L-5 5M1 5H-5V-1" stroke="#000" stroke-width="4"/><path d="M5 -5L-5 5M1 5H-5V-1" stroke="#fff" stroke-width="2"/></g>
<g transform="translate(557 245)"><path d="M5 -5L-5 5M1 5H-5V-1" stroke="#000" stroke-width="4"/><path d="M5 -5L-5 5M1 5H-5V-1" stroke="#fff" stroke-width="2"/></g>
<g transform="translate(63 283)"><path d="M-5 -5L5 5M-1 5H5V-1" stroke="#fff" stroke-width="4"/><path d="M-5 -5L5 5M-1 5H5V-1" stroke="#000" stroke-width="2"/></g>
<g transform="translate(139 283)"><path d="M-5 -5L5 5M-1 5H5V-1" stroke="#fff" stroke-width="4"/><path d="M-5 -5L5 5M-1 5H5V-1" stroke="#000" stroke-width="2"/></g>
<g transform="translate(215 283)"><path d="M-5 -5L5 5M-1 5H5V-1" stroke="#fff" stroke-width="4"/><path d="M-5 -5L5 5M-1 5H5V-1" stroke="#000" stroke-width="2"/></g>
<g transform="translate(291 283)"><path d="M-5 -5L5 5M-1 5H5V-1" stroke="#000" stroke-width="4"/><path d="M-5 -5L5 5M-1 5H5V-1" stroke="#fff" stroke-width="2"/></g>
<g transform="translate(367 283)"><path d="M5 -5L-5 5M1 5H-5V-1" stroke="#000" stroke-width="4"/><path d="M5 -5L-5 5M1 5H-5V-1" stroke="#fff" stroke-width="2"/></g>
<g transform="translate(443 283)"><path d="M5 -5L-5 5M1 5H-5V-1" stroke="#000" stroke-width="4"/><path d="M5 -5L-5 5M1 5H-5V-1" stroke="#fff" stroke-width="2"/></g>
<g transform="translate(519 283)"><path d="M5 -5L-5 5M1 5H-5V-1" stroke="#000" stroke-width="4"/><path d="M5 -5L-5 5M1 5H-5V-1" stroke="#fff" stroke-width="2"/></g>
<g transform="translate(595 283)"><path d="M5 -5L-5 5M1 5H-5V-1" stroke="#000" stroke-width="4"/><path d="M5 -5L-5 5M1 5H-5V-1" stroke="#fff" stroke-width="2"/></g>
<g transform="translate(101 321)"><path d="M-5 -5L5 5M-1 5H5V-1" stroke="#fff" stroke-width="4"/><path d="M-5 -5L5 5M-1 5H5V-1" stroke="#000" stroke-width="2"/></g>
<g transform="translate(177 321)"><path d="M-5 -5L5 5M-1 5H5V-1" stroke="#fff" stroke-width="4"/><path d="M-5 -5L5 5M-1 5H5V-1" stroke="#000" stroke-width="2"/></g>
<g transform="translate(253 321)"><path d="M-5 -5L5 5M-1 5H5V-1" stroke="#fff" stroke-width="4"/><path d="M-5 -5L5 5M-1 5H5V-1" stroke="#000" stroke-width="2"/></g>
<g transform="translate(329 321)"><path d="M5 -5L-5 5M1 5H-5V-1" stroke="#000" stroke-width="4"/><path d="M5 -5L-5 5M1 5H-5V-1" stroke="#fff" stroke-width="2"/></g>
<g transform="translate(405 321)"><path d="M5 -5L-5 5M1 5H-5V-1" stroke="#000" stroke-width="4"/><path d="M5 -5L-5 5M1 5H-5V-1" stroke="#fff" stroke-width="2"/></g>
<g transform="translate(481 321)"><path d="M5 -5L-5 5M1 5H-5V-1" stroke="#000" stroke-width="4"/><path d="M5 -5L-5 5M1 5H-5V-1" stroke="#fff" stroke-width="2"/></g>
<g transform="translate(557 321)"><path d="M5 -5L-5 5M1 5H-5V-1" stroke="#000" stroke-width="4"/><path d="M5 -5L-5 5M1 5H-5V-1" stroke="#fff" stroke-width="2"/></g>
<g transform="translate(63 359)"><path d="M5 -5L-5 5M1 5H-5V-1" stroke="#000" stroke-width="4"/><path d="M5 -5L-5 5M1 5H-5V-1" stroke="#fff" stroke-width="2"/></g>
<g transform="translate(139 359)"><path d="M5 -5L-5 5M1 5H-5V-1" stroke="#000" stroke-width="4"/><path d="M5 -5L-5 5M1 5H-5V-1" stroke="#fff" stroke-width="2"/></g>
<g transform="translate(215 359)"><path d="M5 -5L-5 5M1 5H-5V-1" stroke="#000" stroke-width="4"/><path d="M5 -5L-5 5M1 5H-5V-1" stroke="#fff" stroke-width="2"/></g>
<g transform="translate(291 359)"><path d="M5 -5L-5 5M1 5H-5V-1" stroke="#000" stroke-width="4"/><path d="M5 -5L-5 5M1 5H-5V-1" stroke="#fff" stroke-width="2"/></g>
<g transform="translate(367 359)"><path d="M-5 -5L5 5M-1 5H5V-1" stroke="#000" stroke-width="4"/><path d="M-5 -5L5 5M-1 5H5V-1" stroke="#fff" stroke-width="2"/></g>
<g transform="translate(443 359)"><path d="M-5 -5L5 5M-1 5H5V-1" stroke="#000" stroke-width="4"/><path d="M-5 -5L5 5M-1 5H5V-1" stroke="#fff" stroke-width="2"/></g>
<g transform="translate(519 359)"><path d="M-5 -5L5 5M-1 5H5V-1" stroke="#000" stroke-width="4"/><path d="M-5 -5L5 5M-1 5H5V-1" stroke="#fff" stroke-width="2"/></g>
<g transform="translate(595 359)"><path d="M-5 -5L5 5M-1 5H5V-1" stroke="#000" stroke-width="4"/><path d="M-5 -5L5 5M-1 5H5V-1" stroke="#fff" stroke-width="2"/></g>
<g transform="translate(101 397)"><path d="M5 -5L-5 5M1 5H-5V-1" stroke="#000" stroke-width="4"/><path d="M5 -5L-5 5M1 5H-5V-1" stroke="#fff" stroke-width="2"/></g>
<g transform="translate(177 397)"><path d="M5 -5L-5 5M1 5H-5V-1" stroke="#000" stroke-width="4"/><path d="M5 -5L-5 5M1 5H-5V-1" stroke="#fff" stroke-width="2"/></g>
<g transform="translate(253 397)"><path d="M5 -5L-5 5M1 5H-5V-1" stroke="#000" stroke-width="4"/><path d="M5 -5L-5 5M1 5H-5V-1" stroke="#fff" stroke-width="2"/></g>
<g transform="translate(329 397)"><path d="M5 -5L-5 5M1 5H-5V-1" stroke="#000" stroke-width="4"/><path d="M5 -5L-5 5M1 5H-5V-1" stroke="#fff" stroke-width="2"/></g>
<g transform="translate(405 397)"><path d="M-5 -5L5 5M-1 5H5V-1" stroke="#000" stroke-width="4"/><path d="M-5 -5L5 5M-1 5H5V-1" stroke="#fff" stroke-width="2"/></g>
<g transform="translate(481 397)"><path d="M-5 -5L5 5M-1 5H5V-1" stroke="#000" stroke-width="4"/><path d="M-5 -5L5 5M-1 5H5V-1" stroke="#fff" stroke-width="2"/></g>
<g transform="translate(557 397)"><path d="M-5 -5L5 5M-1 5H5V-1" stroke="#000" stroke-width="4"/><path d="M-5 -5L5 5M-1 5H5V-1" stroke="#fff" stroke-width="2"/></g>
<g transform="translate(63 435)"><path d="M5 -5L-5 5M1 5H-5V-1" stroke="#000" stroke-width="4"/><path d="M5 -5L-5 5M1 5H-5V-1" stroke="#fff" stroke-width="2"/></g>
<g transform="translate(139 435)"><path d="M5 -5L-5 5M1 5H-5V-1" stroke="#000" stroke-width="4"/><path d="M5 -5L-5 5M1 5H-5V-1" stroke="#fff" stroke-width="2"/></g>
<g transform="translate(215 435)"><path d="M5 -5L-5 5M1 5H-5V-1" stroke="#000" stroke-width="4"/><path d="M5 -5L-5 5M1 5H-5V-1" stroke="#fff" stroke-width="2"/></g>
<g transform="translate(291 435)"><path d="M5 -5L-5 5M1 5H-5V-1" stroke="#000" stroke-width="4"/><path d="M5 -5L-5 5M1 5H-5V-1" stroke="#fff" stroke-width="2"/></g>
<g transform="translate(367 435)"><path d="M-5 -5L5 5M-1 5H5V-1" stroke="#fff" stroke-width="4"/><path d="M-5 -5L5 5M-1 5H5V-1" stroke="#000" stroke-width="2"/></g>
<g transform="translate(443 435)"><path d="M-5 -5L5 5M-1 5H5V-1" stroke="#000" stroke-width="4"/><path d="M-5 -5L5 5M-1 5H5V-1" stroke="#fff" stroke-width="2"/></g>
<g transform="translate(519 435)"><path d="M-5 -5L5 5M-1 5H5V-1" stroke="#000" stroke-width="4"/><path d="M-5 -5L5 5M-1 5H5V-1" stroke="#fff" stroke-width="2"/></g>
<g transform="translate(595 435)"><path d="M-5 -5L5 5M-1 5H5V-1" stroke="#000" stroke-width="4"/><path d="M-5 -5L5 5M-1 5H5V-1" stroke="#fff" stroke-width="2"/></g>
<g transform="translate(101 473)"><path d="M5 -5L-5 5M1 5H-5V-1" stroke="#000" stroke-width="4"/><path d="M5 -5L-5 5M1 5H-5V-1" stroke="#fff" stroke-width="2"/></g>
<g transform="translate(177 473)"><path d="M5 -5L-5 5M1 5H-5V-1" stroke="#000" stroke-width="4"/><path d="M5 -5L-5 5M1 5H-5V-1" stroke="#fff" stroke-width="2"/></g>
<g transform="translate(253 473)"><path d="M5 -5L-5 5M1 5H-5V-1" stroke="#000" stroke-width="4"/><path d="M5 -5L-5 5M1 5H-5V-1" stroke="#fff" stroke-width="2"/></g>
<g transform="translate(329 473)"><path d="M5 -5L-5 5M1 5H-5V-1" stroke="#000" stroke-width="4"/><path d="M5 -5L-5 5M1 5H-5V-1" stroke="#fff" stroke-width="2"/></g>
<g transform="translate(405 473)"><path d="M-5 -5L5 5M-1 5H5V-1" stroke="#fff" stroke-width="4"/><path d="M-5 -5L5 5M-1 5H5V-1" stroke="#000" stroke-width="2"/></g>
<g transform="translate(481 473)"><path d="M-5 -5L5 5M-1 5H5V-1" stroke="#000" stroke-width="4"/><path d="M-5 -5L5 5M-1 5H5V-1" stroke="#fff" stroke-width="2"/></g>
<g transform="translate(557 473)"><path d="M-5 -5L5 5M-1 5H5V-1" stroke="#000" stroke-width="4"/><path d="M-5 -5L5 5M-1 5H5V-1" stroke="#fff" stroke-width="2"/></g>
<g transform="translate(63 511)"><path d="M5 -5L-5 5M1 5H-5V-1" stroke="#000" stroke-width="4"/><path d="M5 -5L-5 5M1 5H-5V-1" stroke="#fff" stroke-width="2"/></g>
<g transform="translate(139 511)"><path d="M5 -5L-5 5M1 5H-5V-1" stroke="#000" stroke-width="4"/><path d="M5 -5L-5 5M1 5H-5V-1" stroke="#fff" stroke-width="2"/></g>
<g transform="translate(215 511)"><path d="M5 -5L-5 5M1 5H-5V-1" stroke="#000" stroke-width="4"/><path d="M5 -5L-5 5M1 5H-5V-1" stroke="#fff" stroke-width="2"/></g>
<g transform="translate(291 511)"><path d="M5 -5L-5 5M1 5H-5V-1" stroke="#000" stroke-width="4"/><path d="M5 -5L-5 5M1 5H-5V-1" stroke="#fff" stroke-width="2"/></g>
<g transform="translate(367 511)"><path d="M-5 -5L5 5M-1 5H5V-1" stroke="#fff" stroke-width="4"/><path d="M-5 -5L5 5M-1 5H5V-1" stroke="#000" stroke-width="2"/></g>
<g transform="translate(443 511)"><path d="M-5 -5L5 5M-1 5H5V-1" stroke="#fff" stroke-width="4"/><path d="M-5 -5L5 5M-1 5H5V-1" stroke="#000" stroke-width="2"/></g>
<g transform="translate(519 511)"><path d="M-5 -5L5 5M-1 5H5V-1" stroke="#000" stroke-width="4"/><path d="M-5 -5L5 5M-1 5H5V-1" stroke="#fff" stroke-width="2"/></g>
<g transform="translate(595 511)"><path d="M-5 -5L5 5M-1 5H5V-1" stroke="#000" stroke-width="4"/><path d="M-5 -5L5 5M-1 5H5V-1" stroke="#fff" stroke-width="2"/></g>
<g transform="translate(101 549)"><path d="M5 -5L-5 5M1 5H-5V-1" stroke="#000" stroke-width="4"/><path d="M5 -5L-5 5M1 5H-5V-1" stroke="#fff" stroke-width="2"/></g>
<g transform="translate(177 549)"><path d="M5 -5L-5 5M1 5H-5V-1" stroke="#000" stroke-width="4"/><path d="M5 -5L-5 5M1 5H-5V-1" stroke="#fff" stroke-width="2"/></g>
<g transform="translate(253 549)"><path d="M5 -5L-5 5M1 5H-5V-1" stroke="#000" stroke-width="4"/><path d="M5 -5L-5 5M1 5H-5V-1" stroke="#fff" stroke-width="2"/></g>
<g transform="translate(329 549)"><path d="M5 -5L-5 5M1 5H-5V-1" stroke="#000" stroke-width="4"/><path d="M5 -5L-5 5M1 5H-5V-1" stroke="#fff" stroke-width="2"/></g>
<g transform="translate(405 549)"><path d="M-5 -5L5 5M-1 5H5V-1" stroke="#fff" stroke-width="4"/><path d="M-5 -5L5 5M-1 5H5V-1" stroke="#000" stroke-width="2"/></g>
<g transform="translate(481 549)"><path d="M-5 -5L5 5M-1 5H5V-1" stroke="#fff" stroke-width="4"/><path d="M-5 -5L5 5M-1 5H5V-1" stroke="#000" stroke-width="2"/></g>
<g transform="translate(557 549)"><path d="M-5 -5L5 5M-1 5H5V-1" stroke="#000" stroke-width="4"/><path d="M-5 -5L5 5M-1 5H5V-1" stroke="#fff" stroke-width="2"/></g>
<g transform="translate(63 587)"><path d="M5 -5L-5 5M1 5H-5V-1" stroke="#000" stroke-width="4"/><path d="M5 -5L-5 5M1 5H-5V-1" stroke="#fff" stroke-width="2"/></g>
<g transform="translate(139 587)"><path d="M5 -5L-5 5M1 5H-5V-1" stroke="#000" stroke-width="4"/><path d="M5 -5L-5 5M1 5H-5V-1" stroke="#fff" stroke-width="2"/></g>
<g transform="translate(215 587)"><path d="M5 -5L-5 5M1 5H-5V-1" stroke="#000" stroke-width="4"/><path d="M5 -5L-5 5M1 5H-5V-1" stroke="#fff" stroke-width="2"/></g>
<g transform="translate(291 587)"><path d="M5 -5L-5 5M1 5H-5V-1" stroke="#000" stroke-width="4"/><path d="M5 -5L-5 5M1 5H-5V-1" stroke="#fff" stroke-width="2"/></g>
<g transform="translate(367 587)"><path d="M-5 -5L5 5M-1 5H5V-1" stroke="#fff" stroke-width="4"/><path d="M-5 -5L5 5M-1 5H5V-1" stroke="#000" stroke-width="2"/></g>
<g transform="translate(443 587)"><path d="M-5 -5L5 5M-1 5H5V-1" stroke="#fff" stroke-width="4"/><path d="M-5 -5L5 5M-1 5H5V-1" stroke="#000" stroke-width="2"/></g>
<g transform="translate(519 587)"><path d="M-5 -5L5 5M-1 5H5V-1" stroke="#fff" stroke-width="4"/><path d="M-5 -5L5 5M-1 5H5V-1" stroke="#000" stroke-width="2"/></g>
<g transform="translate(595 587)"><path d="M-5 -5L5 5M-1 5H5V-1" stroke="#000" stroke-width="4"/><path d="M-5 -5L5 5M-1 5H5V-1" stroke="#fff" stroke-width="2"/></g>
<g transform="translate(101 625)"><path d="M5 -5L-5 5M1 5H-5V-1" stroke="#000" stroke-width="4"/><path d="M5 -5L-5 5M1 5H-5V-1" stroke="#fff" stroke-width="2"/></g>
<g transform="translate(177 625)"><path d="M5 -5L-5 5M1 5H-5V-1" stroke="#000" stroke-width="4"/><path d="M5 -5L-5 5M1 5H-5V-1" stroke="#fff" stroke-width="2"/></g>
<g transform="translate(253 625)"><path d="M5 -5L-5 5M1 5H-5V-1" stroke="#000" stroke-width="4"/><path d="M5 -5L-5 5M1 5H-5V-1" stroke="#fff" stroke-width="2"/></g>
<g transform="translate(329 625)"><path d="M5 -5L-5 5M1 5H-5V-1" stroke="#000" stroke-width="4"/><path d="M5 -5L-5 5M1 5H-5V-1" stroke="#fff" stroke-width="2"/></g>
<g transform="translate(405 625)"><path d="M-5 -5L5 5M-1 5H5V-1" stroke="#fff" stroke-width="4"/><path d="M-5 -5L5 5M-1 5H5V-1" stroke="#000" stroke-width="2"/></g>
<g transform="translate(481 625)"><path d="M-5 -5L5 5M-1 5H5V-1" stroke="#fff" stroke-width="4"/><path d="M-5 -5L5 5M-1 5H5V-1" stroke="#000" stroke-width="2"/></g>
<g transform="translate(557 625)"><path d="M-5 -5L5 5M-1 5H5V-1" stroke="#fff" stroke-width="4"/><path d="M-5 -5L5 5M-1 5H5V-1" stroke="#000" stroke-width="2"/></g>
<g transform="translate(63 663)"><path d="M-5 -5L5 5M-1 5H5V-1" stroke="#000" stroke-width="4"/><path d="M-5 -5L5 5M-1 5H5V-1" stroke="#fff" stroke-width="2"/></g>
<g transform="translate(139 663)"><path d="M-5 -5L5 5M-1 5H5V-1" stroke="#000" stroke-width="4"/><path d="M-5 -5L5 5M-1 5H5V-1" stroke="#fff" stroke-width="2"/></g>
<g transform="translate(215 663)"><path d="M-5 -5L5 5M-1 5H5V-1" stroke="#000" stroke-width="4"/><path d="M-5 -5L5 5M-1 5H5V-1" stroke="#fff" stroke-width="2"/></g>
<g transform="translate(291 663)"><path d="M-5 -5L5 5M-1 5H5V-1" stroke="#000" stroke-width="4"/><path d="M-5 -5L5 5M-1 5H5V-1" stroke="#fff" stroke-width="2"/></g>
<g transform="translate(367 663)"><path d="M5 -5L-5 5M1 5H-5V-1" stroke="#000" stroke-width="4"/><path d="M5 -5L-5 5M1 5H-5V-1" stroke="#fff" stroke-width="2"/></g>
<g transform="translate(443 663)"><path d="M5 -5L-5 5M1 5H-5V-1" stroke="#000" stroke-width="4"/><path d="M5 -5L-5 5M1 5H-5V-1" stroke="#fff" stroke-width="2"/></g>
<g transform="translate(519 663)"><path d="M5 -5L-5 5M1 5H-5V-1" stroke="#000" stroke-width="4"/><path d="M5 -5L-5 5M1 5H-5V-1" stroke="#fff" stroke-width="2"/></g>
<g transform="translate(595 663)"><path d="M5 -5L-5 5M1 5H-5V-1" stroke="#000" stroke-width="4"/><path d="M5 -5L-5 5M1 5H-5V-1" stroke="#fff" stroke-width="2"/></g>
<g transform="translate(101 701)"><path d="M-5 -5L5 5M-1 5H5V-1" stroke="#000" stroke-width="4"/><path d="M-5 -5L5 5M-1 5H5V-1" stroke="#fff" stroke-width="2"/></g>
<g transform="translate(177 701)"><path d="M-5 -5L5 5M-1 5H5V-1" stroke="#000" stroke-width="4"/><path d="M-5 -5L5 5M-1 5H5V-1" stroke="#fff" stroke-width="2"/></g>
<g transform="translate(253 701)"><path d="M-5 -5L5 5M-1 5H5V-1" stroke="#000" stroke-width="4"/><path d="M-5 -5L5 5M-1 5H5V-1" stroke="#fff" stroke-width="2"/></g>
<g transform="translate(329 701)"><path d="M5 -5L-5 5M1 5H-5V-1" stroke="#000" stroke-width="4"/><path d="M5 -5L-5 5M1 5H-5V-1" stroke="#fff" stroke-width="2"/></g>
<g transform="translate(405 701)"><path d="M5 -5L-5 5M1 5H-5V-1" stroke="#000" stroke-width="4"/><path d="M5 -5L-5 5M1 5H-5V-1" stroke="#fff" stroke-width="2"/></g>
<g transform="translate(481 701)"><path d="M5 -5L-5 5M1 5H-5V-1" stroke="#000" stroke-width="4"/><path d="M5 -5L-5 5M1 5H-5V-1" stroke="#fff" stroke-width="2"/></g>
<g transform="translate(557 701)"><path d="M5 -5L-5 5M1 5H-5V-1" stroke="#000" stroke-width="4"/><path d="M5 -5L-5 5M1 5H-5V-1" stroke="#fff" stroke-width="2"/></g>
<g transform="translate(63 739)"><path d="M-5 -5L5 5M-1 5H5V-1" stroke="#000" stroke-width="4"/><path d="M-5 -5L5 5M-1 5H5V-1" stroke="#fff" stroke-width="2"/></g>
<g transform="translate(139 739)"><path d="M-5 -5L5 5M-1 5H5V-1" stroke="#000" stroke-width="4"/><path d="M-5 -5L5 5M-1 5H5V-1" stroke="#fff" stroke-width="2"/></g>
<g transform="translate(215 739)"><path d="M-5 -5L5 5M-1 5H5V-1" stroke="#000" stroke-width="4"/><path d="M-5 -5L5 5M-1 5H5V-1" stroke="#fff" stroke-width="2"/></g>
<g transform="translate(291 739)"><path d="M-5 -5L5 5M-1 5H5V-1" stroke="#000" stroke-width="4"/><path d="M-5 -5L5 5M-1 5H5V-1" stroke="#fff" stroke-width="2"/></g>
<g transform="translate(367 739)"><path d="M5 -5L-5 5M1 5H-5V-1" stroke="#000" stroke-width="4"/><path d="M5 -5L-5 5M1 5H-5V-1" stroke="#fff" stroke-width="2"/></g>
<g transform="translate(443 739)"><path d="M5 -5L-5 5M1 5H-5V-1" stroke="#000" stroke-width="4"/><path d="M5 -5L-5 5M1 5H-5V-1" stroke="#fff" stroke-width="2"/></g>
<g transform="translate(519 739)"><path d="M5 -5L-5 5M1 5H-5V-1" stroke="#000" stroke-width="4"/><path d="M5 -5L-5 5M1 5H-5V-1" stroke="#fff" stroke-width="2"/></g>
<g transform="translate(595 739)"><path d="M5 -5L-5 5M1 5H-5V-1" stroke="#fff" stroke-width="4"/><path d="M5 -5L-5 5M1 5H-5V-1" stroke="#000" stroke-width="2"/></g>
<g transform="translate(101 777)"><path d="M-5 -5L5 5M-1 5H5V-1" stroke="#000" stroke-width="4"/><path d="M-5 -5L5 5M-1 5H5V-1" stroke="#fff" stroke-width="2"/></g>
<g transform="translate(177 777)"><path d="M-5 -5L5 5M-1 5H5V-1" stroke="#000" stroke-width="4"/><path d="M-5 -5L5 5M-1 5H5V-1" stroke="#fff" stroke-width="2"/></g>
<g transform="translate(253 777)"><path d="M-5 -5L5 5M-1 5H5V-1" stroke="#000" stroke-width="4"/><path d="M-5 -5L5 5M-1 5H5V-1" stroke="#fff" stroke-width="2"/></g>
<g transform="translate(329 777)"><path d="M5 -5L-5 5M1 5H-5V-1" stroke="#000" stroke-width="4"/><path d="M5 -5L-5 5M1 5H-5V-1" stroke="#fff" stroke-width="2"/></g>
<g transform="translate(405 777)"><path d="M5 -5L-5 5M1 5H-5V-1" stroke="#000" stroke-width="4"/><path d="M5 -5L-5 5M1 5H-5V-1" stroke="#fff" stroke-width="2"/></g>
<g transform="translate(481 777)"><path d="M5 -5L-5 5M1 5H-5V-1" stroke="#000" stroke-width="4"/><path d="M5 -5L-5 5M1 5H-5V-1" stroke="#fff" stroke-width="2"/></g>
<g transform="translate(557 777)"><path d="M5 -5L-5 5M1 5H-5V-1" stroke="#fff" stroke-width="4"/><path d="M5 -5L-5 5M1 5H-5V-1" stroke="#000" stroke-width="2"/></g>
<g transform="translate(63 815)"><path d="M-5 -5L5 5M-1 5H5V-1" stroke="#000" stroke-width="4"/><path d="M-5 -5L5 5M-1 5H5V-1" stroke="#fff" stroke-width="2"/></g>
<g transform="translate(139 815)"><path d="M-5 -5L5 5M-1 5H5V-1" stroke="#000" stroke-width="4"/><path d="M-5 -5L5 5M-1 5H5V-1" stroke="#fff" stroke-width="2"/></g>
<g transform="translate(215 815)"><path d="M-5 -5L5 5M-1 5H5V-1" stroke="#000" stroke-width="4"/><path d="M-5 -5L5 5M-1 5H5V-1" stroke="#fff" stroke-width="2"/></g>
<g transform="translate(291 815)"><path d="M-5 -5L5 5M-1 5H5V-1" stroke="#000" stroke-width="4"/><path d="M-5 -5L5 5M-1 5H5V-1" stroke="#fff" stroke-width="2"/></g>
<g transform="translate(367 815)"><path d="M5 -5L-5 5M1 5H-5V-1" stroke="#000" stroke-width="4"/><path d="M5 -5L-5 5M1 5H-5V-1" stroke="#fff" stroke-width="2"/></g>
<g transform="translate(443 815)"><path d="M5 -5L-5 5M1 5H-5V-1" stroke="#000" stroke-width="4"/><path d="M5 -5L-5 5M1 5H-5V-1" stroke="#fff" stroke-width="2"/></g>
<g transform="translate(519 815)"><path d="M5 -5L-5 5M1 5H-5V-1" stroke="#fff" stroke-width="4"/><path d="M5 -5L-5 5M1 5H-5V-1" stroke="#000" stroke-width="2"/></g>
<g transform="translate(595 815)"><path d="M5 -5L-5 5M1 5H-5V-1" stroke="#fff" stroke-width="4"/><path d="M5 -5L-5 5M1 5H-5V-1" stroke="#000" stroke-width="2"/></g>
<g transform="translate(101 853)"><path d="M-5 -5L5 5M-1 5H5V-1" stroke="#000" stroke-width="4"/><path d="M-5 -5L5 5M-1 5H5V-1" stroke="#fff" stroke-width="2"/></g>
<g transform="translate(177 853)"><path d="M-5 -5L5 5M-1 5H5V-1" stroke="#000" stroke-width="4"/><path d="M-5 -5L5 5M-1 5H5V-1" stroke="#fff" stroke-width="2"/></g>
<g transform="translate(253 853)"><path d="M-5 -5L5 5M-1 5H5V-1" stroke="#000" stroke-width="4"/><path d="M-5 -5L5 5M-1 5H5V-1" stroke="#fff" stroke-width="2"/></g>
<g transform="translate(329 853)"><path d="M5 -5L-5 5M1 5H-5V-1" stroke="#000" stroke-width="4"/><path d="M5 -5L-5 5M1 5H-5V-1" stroke="#fff" stroke-width="2"/></g>
<g transform="translate(405 853)"><path d="M5 -5L-5 5M1 5H-5V-1" stroke="#000" stroke-width="4"/><path d="M5 -5L-5 5M1 5H-5V-1" stroke="#fff" stroke-width="2"/></g>
<g transform="translate(481 853)"><path d="M5 -5L-5 5M1 5H-5V-1" stroke="#fff" stroke-width="4"/><path d="M5 -5L-5 5M1 5H-5V-1" stroke="#000" stroke-width="2"/></g>
<g transform="translate(557 853)"><path d="M5 -5L-5 5M1 5H-5V-1" stroke="#fff" stroke-width="4"/><path d="M5 -5L-5 5M1 5H-5V-1" stroke="#000" stroke-width="2"/></g>
<g transform="translate(63 891)"><path d="M-5 -5L5 5M-1 5H5V-1" stroke="#000" stroke-width="4"/><path d="M-5 -5L5 5M-1 5H5V-1" stroke="#fff" stroke-width="2"/></g>
<g transform="translate(139 891)"><path d="M-5 -5L5 5M-1 5H5V-1" stroke="#000" stroke-width="4"/><path d="M-5 -5L5 5M-1 5H5V-1" stroke="#fff" stroke-width="2"/></g>
<g transform="translate(215 891)"><path d="M-5 -5L5 5M-1 5H5V-1" stroke="#000" stroke-width="4"/><path d="M-5 -5L5 5M-1 5H5V-1" stroke="#fff" stroke-width="2"/></g>
<g transform="translate(291 891)"><path d="M-5 -5L5 5M-1 5H5V-1" stroke="#000" stroke-width="4"/><path d="M-5 -5L5 5M-1 5H5V-1" stroke="#fff" stroke-width="2"/></g>
<g transform="translate(367 891)"><path d="M5 -5L-5 5M1 5H-5V-1" stroke="#000" stroke-width="4"/><path d="M5 -5L-5 5M1 5H-5V-1" stroke="#fff" stroke-width="2"/></g>
<g transform="translate(443 891)"><path d="M5 -5L-5 5M1 5H-5V-1" stroke="#fff" stroke-width="4"/><path d="M5 -5L-5 5M1 5H-5V-1" stroke="#000" stroke-width="2"/></g>
<g transform="translate(519 891)"><path d="M5 -5L-5 5M1 5H-5V-1" stroke="#fff" stroke-width="4"/><path d="M5 -5L-5 5M1 5H-5V-1" stroke="#000" stroke-width="2"/></g>
<g transform="translate(595 891)"><path d="M5 -5L-5 5M1 5H-5V-1" stroke="#fff" stroke-width="4"/><path d="M5 -5L-5 5M1 5H-5V-1" stroke="#000" stroke-width="2"/></g>
<g transform="translate(101 929)"><path d="M-5 -5L5 5M-1 5H5V-1" stroke="#000" stroke-width="4"/><path d="M-5 -5L5 5M-1 5H5V-1" stroke="#fff" stroke-width="2"/></g>
<g transform="translate(177 929)"><path d="M-5 -5L5 5M-1 5H5V-1" stroke="#000" stroke-width="4"/><path d="M-5 -5L5 5M-1 5H5V-1" stroke="#fff" stroke-width="2"/></g>
<g transform="translate(253 929)"><path d="M-5 -5L5 5M-1 5H5V-1" stroke="#000" stroke-width="4"/><path d="M-5 -5L5 5M-1 5H5V-1" stroke="#fff" stroke-width="2"/></g>
<g transform="translate(329 929)"><path d="M5 -5L-5 5M1 5H-5V-1" stroke="#000" stroke-width="4"/><path d="M5 -5L-5 5M1 5H-5V-1" stroke="#fff" stroke-width="2"/></g>
<g transform="translate(405 929)"><path d="M5 -5L-5 5M1 5H-5V-1" stroke="#fff" stroke-width="4"/><path d="M5 -5L-5 5M1 5H-5V-1" stroke="#000" stroke-width="2"/></g>
<g transform="translate(481 929)"><path d="M5 -5L-5 5M1 5H-5V-1" stroke="#fff" stroke-width="4"/><path d="M5 -5L-5 5M1 5H-5V-1" stroke="#000" stroke-width="2"/></g>
<g transform="translate(557 929)"><path d="M5 -5L-5 5M1 5H-5V-1" stroke="#fff" stroke-width="4"/><path d="M5 -5L-5 5M1 5H-5V-1" stroke="#000" stroke-width="2"/></g>
<g transform="translate(63 967)"><path d="M5 -5L-5 5M1 5H-5V-1" stroke="#000" stroke-width="4"/><path d="M5 -5L-5 5M1 5H-5V-1" stroke="#fff" stroke-width="2"/></g>
<g transform="translate(139 967)"><path d="M5 -5L-5 5M1 5H-5V-1" stroke="#000" stroke-width="4"/><path d="M5 -5L-5 5M1 5H-5V-1" stroke="#fff" stroke-width="2"/></g>
<g transform="translate(215 967)"><path d="M5 -5L-5 5M1 5H-5V-1" stroke="#000" stroke-width="4"/><path d="M5 -5L-5 5M1 5H-5V-1" stroke="#fff" stroke-width="2"/></g>
<g transform="translate(291 967)"><path d="M5 -5L-5 5M1 5H-5V-1" stroke="#000" stroke-width="4"/><path d="M5 -5L-5 5M1 5H-5V-1" stroke="#fff" stroke-width="2"/></g>
<g transform="translate(367 967)"><path d="M-5 -5L5 5M-1 5H5V-1" stroke="#000" stroke-width="4"/><path d="M-5 -5L5 5M-1 5H5V-1" stroke="#fff" stroke-width="2"/></g>
<g transform="translate(443 967)"><path d="M-5 -5L5 5M-1 5H5V-1" stroke="#000" stroke-width="4"/><path d="M-5 -5L5 5M-1 5H5V-1" stroke="#fff" stroke-width="2"/></g>
<g transform="translate(519 967)"><path d="M-5 -5L5 5M-1 5H5V-1" stroke="#000" stroke-width="4"/><path d="M-5 -5L5 5M-1 5H5V-1" stroke="#fff" stroke-width="2"/></g>
<g transform="translate(595 967)"><path d="M-5 -5L5 5M-1 5H5V-1" stroke="#000" stroke-width="4"/><path d="M-5 -5L5 5M-1 5H5V-1" stroke="#fff" stroke-width="2"/></g>
<g transform="translate(101 1005)"><path d="M5 -5L-5 5M1 5H-5V-1" stroke="#000" stroke-width="4"/><path d="M5 -5L-5 5M1 5H-5V-1" stroke="#fff" stroke-width="2"/></g>
<g transform="translate(177 1005)"><path d="M5 -5L-5 5M1 5H-5V-1" stroke="#000" stroke-width="4"/><path d="M5 -5L-5 5M1 5H-5V-1" stroke="#fff" stroke-width="2"/></g>
<g transform="translate(253 1005)"><path d="M5 -5L-5 5M1 5H-5V-1" stroke="#000" stroke-width="4"/><path d="M5 -5L-5 5M1 5H-5V-1" stroke="#fff" stroke-width="2"/></g>
<g transform="translate(329 1005)"><path d="M5 -5L-5 5M1 5H-5V-1" stroke="#fff" stroke-width="4"/><path d="M5 -5L-5 5M1 5H-5V-1" stroke="#000" stroke-width="2"/></g>
<g transform="translate(405 1005)"><path d="M-5 -5L5 5M-1 5H5V-1" stroke="#000" stroke-width="4"/><path d="M-5 -5L5 5M-1 5H5V-1" stroke="#fff" stroke-width="2"/></g>
<g transform="translate(481 1005)"><path d="M-5 -5L5 5M-1 5H5V-1" stroke="#000" stroke-width="4"/><path d="M-5 -5L5 5M-1 5H5V-1" stroke="#fff" stroke-width="2"/></g>
<g transform="translate(557 1005)"><path d="M-5 -5L5 5M-1 5H5V-1" stroke="#000" stroke-width="4"/><path d="M-5 -5L5 5M-1 5H5V-1" stroke="#fff" stroke-width="2"/></g>
<g transform="translate(63 1043)"><path d="M5 -5L-5 5M1 5H-5V-1" stroke="#000" stroke-width="4"/><path d="M5 -5L-5 5M1 5H-5V-1" stroke="#fff" stroke-width="2"/></g>
<g transform="translate(139 1043)"><path d="M5 -5L-5 5M1 5H-5V-1" stroke="#000" stroke-width="4"/><path d="M5 -5L-5 5M1 5H-5V-1" stroke="#fff" stroke-width="2"/></g>
<g transform="translate(215 1043)"><path d="M5 -5L-5 5M1 5H-5V-1" stroke="#000" stroke-width="4"/><path d="M5 -5L-5 5M1 5H-5V-1" stroke="#fff" stroke-width="2"/></g>
<g transform="translate(291 1043)"><path d="M5 -5L-5 5M1 5H-5V-1" stroke="#fff" stroke-width="4"/><path d="M5 -5L-5 5M1 5H-5V-1" stroke="#000" stroke-width="2"/></g>
<g transform="translate(367 1043)"><path d="M-5 -5L5 5M-1 5H5V-1" stroke="#000" stroke-width="4"/><path d="M-5 -5L5 5M-1 5H5V-1" stroke="#fff" stroke-width="2"/></g>
<g transform="translate(443 1043)"><path d="M-5 -5L5 5M-1 5H5V-1" stroke="#000" stroke-width="4"/><path d="M-5 -5L5 5M-1 5H5V-1" stroke="#fff" stroke-width="2"/></g>
<g transform="translate(519 1043)"><path d="M-5 -5L5 5M-1 5H5V-1" stroke="#000" stroke-width="4"/><path d="M-5 -5L5 5M-1 5H5V-1" stroke="#fff" stroke-width="2"/></g>
<g transform="translate(595 1043)"><path d="M-5 -5L5 5M-1 5H5V-1" stroke="#000" stroke-width="4"/><path d="M-5 -5L5 5M-1 5H5V-1" stroke="#fff" stroke-width="2"/></g>
<g transform="translate(101 1081)"><path d="M5 -5L-5 5M1 5H-5V-1" stroke="#000" stroke-width="4"/><path d="M5 -5L-5 5M1 5H-5V-1" stroke="#fff" stroke-width="2"/></g>
<g transform="translate(177 1081)"><path d="M5 -5L-5 5M1 5H-5V-1" stroke="#000" stroke-width="4"/><path d="M5 -5L-5 5M1 5H-5V-1" stroke="#fff" stroke-width="2"/></g>
<g transform="translate(253 1081)"><path d="M5 -5L-5 5M1 5H-5V-1" stroke="#fff" stroke-width="4"/><path d="M5 -5L-5 5M1 5H-5V-1" stroke="#000" stroke-width="2"/></g>
<g transform="translate(329 1081)"><path d="M5 -5L-5 5M1 5H-5V-1" stroke="#fff" stroke-width="4"/><path d="M5 -5L-5 5M1 5H-5V-1" stroke="#000" stroke-width="2"/></g>
<g transform="translate(405 1081)"><path d="M-5 -5L5 5M-1 5H5V-1" stroke="#000" stroke-width="4"/><path d="M-5 -5L5 5M-1 5H5V-1" stroke="#fff" stroke-width="2"/></g>
<g transform="translate(481 1081)"><path d="M-5 -5L5 5M-1 5H5V-1" stroke="#000" stroke-width="4"/><path d="M-5 -5L5 5M-1 5H5V-1" stroke="#fff" stroke-width="2"/></g>
<g transform="translate(557 1081)"><path d="M-5 -5L5 5M-1 5H5V-1" stroke="#000" stroke-width="4"/><path d="M-5 -5L5 5M-1 5H5V-1" stroke="#fff" stroke-width="2"/></g>
<g transform="translate(63 1119)"><path d="M5 -5L-5 5M1 5H-5V-1" stroke="#000" stroke-width="4"/><path d="M5 -5L-5 5M1 5H-5V-1" stroke="#fff" stroke-width="2"/></g>
<g transform="translate(139 1119)"><path d="M5 -5L-5 5M1 5H-5V-1" stroke="#000" stroke-width="4"/><path d="M5 -5L-5 5M1 5H-5V-1" stroke="#fff" stroke-width="2"/></g>
<g transform="translate(215 1119)"><path d="M5 -5L-5 5M1 5H-5V-1" stroke="#fff" stroke-width="4"/><path d="M5 -5L-5 5M1 5H-5V-1" stroke="#000" stroke-width="2"/></g>
<g transform="translate(291 1119)"><path d="M5 -5L-5 5M1 5H-5V-1" stroke="#fff" stroke-width="4"/><path d="M5 -5L-5 5M1 5H-5V-1" stroke="#000" stroke-width="2"/></g>
<g transform="translate(367 1119)"><path d="M-5 -5L5 5M-1 5H5V-1" stroke="#000" stroke-width="4"/><path d="M-5 -5L5 5M-1 5H5V-1" stroke="#fff" stroke-width="2"/></g>
<g transform="translate(443 1119)"><path d="M-5 -5L5 5M-1 5H5V-1" stroke="#000" stroke-width="4"/><path d="M-5 -5L5 5M-1 5H5V-1" stroke="#fff" stroke-width="2"/></g>
<g transform="translate(519 1119)"><path d="M-5 -5L5 5M-1 5H5V-1" stroke="#000" stroke-width="4"/><path d="M-5 -5L5 5M-1 5H5V-1" stroke="#fff" stroke-width="2"/></g>
<g transform="translate(595 1119)"><path d="M-5 -5L5 5M-1 5H5V-1" stroke="#000" stroke-width="4"/><path d="M-5 -5L5 5M-1 5H5V-1" stroke="#fff" stroke-width="2"/></g>
<g transform="translate(101 1157)"><path d="M5 -5L-5 5M1 5H-5V-1" stroke="#000" stroke-width="4"/><path d="M5 -5L-5 5M1 5H-5V-1" stroke="#fff" stroke-width="2"/></g>
<g transform="translate(177 1157)"><path d="M5 -5L-5 5M1 5H-5V-1" stroke="#fff" stroke-width="4"/><path d="M5 -5L-5 5M1 5H-5V-1" stroke="#000" stroke-width="2"/></g>
<g transform="translate(253 1157)"><path d="M5 -5L-5 5M1 5H-5V-1" stroke="#fff" stroke-width="4"/><path d="M5 -5L-5 5M1 5H-5V-1" stroke="#000" stroke-width="2"/></g>
<g transform="translate(329 1157)"><path d="M5 -5L-5 5M1 5H-5V-1" stroke="#fff" stroke-width="4"/><path d="M5 -5L-5 5M1 5H-5V-1" stroke="#000" stroke-width="2"/></g>
<g transform="translate(405 1157)"><path d="M-5 -5L5 5M-1 5H5V-1" stroke="#000" stroke-width="4"/><path d="M-5 -5L5 5M-1 5H5V-1" stroke="#fff" stroke-width="2"/></g>
<g transform="translate(481 1157)"><path d="M-5 -5L5 5M-1 5H5V-1" stroke="#000" stroke-width="4"/><path d="M-5 -5L5 5M-1 5H5V-1" stroke="#fff" stroke-width="2"/></g>
<g transform="translate(557 1157)"><path d="M-5 -5L5 5M-1 5H5V-1" stroke="#000" stroke-width="4"/><path d="M-5 -5L5 5M-1 5H5V-1" stroke="#fff" stroke-width="2"/></g>
<g transform="translate(63 1195)"><path d="M5 -5L-5 5M1 5H-5V-1" stroke="#000" stroke-width="4"/><path d="M5 -5L-5 5M1 5H-5V-1" stroke="#fff" stroke-width="2"/></g>
<g transform="translate(139 1195)"><path d="M5 -5L-5 5M1 5H-5V-1" stroke="#fff" stroke-width="4"/><path d="M5 -5L-5 5M1 5H-5V-1" stroke="#000" stroke-width="2"/></g>
<g transform="translate(215 1195)"><path d="M5 -5L-5 5M1 5H-5V-1" stroke="#fff" stroke-width="4"/><path d="M5 -5L-5 5M1 5H-5V-1" stroke="#000" stroke-width="2"/></g>
<g transform="translate(291 1195)"><path d="M5 -5L-5 5M1 5H-5V-1" stroke="#fff" stroke-width="4"/><path d="M5 -5L-5 5M1 5H-5V-1" stroke="#000" stroke-width="2"/></g>
<g transform="translate(367 1195)"><path d="M-5 -5L5 5M-1 5H5V-1" stroke="#000" stroke-width="4"/><path d="M-5 -5L5 5M-1 5H5V-1" stroke="#fff" stroke-width="2"/></g>
<g transform="translate(443 1195)"><path d="M-5 -5L5 5M-1 5H5V-1" stroke="#000" stroke-width="4"/><path d="M-5 -5L5 5M-1 5H5V-1" stroke="#fff" stroke-width="2"/></g>
<g transform="translate(519 1195)"><path d="M-5 -5L5 5M-1 5H5V-1" stroke="#000" stroke-width="4"/><path d="M-5 -5L5 5M-1 5H5V-1" stroke="#fff" stroke-width="2"/></g>
<g transform="translate(595 1195)"><path d="M-5 -5L5 5M-1 5H5V-1" stroke="#000" stroke-width="4"/><path d="M-5 -5L5 5M-1 5H5V-1" stroke="#fff" stroke-width="2"/></g>
<g transform="translate(101 1233)"><path d="M5 -5L-5 5M1 5H-5V-1" stroke="#fff" stroke-width="4"/><path d="M5 -5L-5 5M1 5H-5V-1" stroke="#000" stroke-width="2"/></g>
<g transform="translate(177 1233)"><path d="M5 -5L-5 5M1 5H-5V-1" stroke="#fff" stroke-width="4"/><path d="M5 -5L-5 5M1 5H-5V-1" stroke="#000" stroke-width="2"/></g>
<g transform="translate(253 1233)"><path d="M5 -5L-5 5M1 5H-5V-1" stroke="#fff" stroke-width="4"/><path d="M5 -5L-5 5M1 5H-5V-1" stroke="#000" stroke-width="2"/></g>
<g transform="translate(329 1233)"><path d="M5 -5L-5 5M1 5H-5V-1" stroke="#fff" stroke-width="4"/><path d="M5 -5L-5 5M1 5H-5V-1" stroke="#000" stroke-width="2"/></g>
<g transform="translate(405 1233)"><path d="M-5 -5L5 5M-1 5H5V-1" stroke="#000" stroke-width="4"/><path d="M-5 -5L5 5M-1 5H5V-1" stroke="#fff" stroke-width="2"/></g>
<g transform="translate(481 1233)"><path d="M-5 -5L5 5M-1 5H5V-1" stroke="#000" stroke-width="4"/><path d="M-5 -5L5 5M-1 5H5V-1" stroke="#fff" stroke-width="2"/></g>
<g transform="translate(557 1233)"><path d="M-5 -5L5 5M-1 5H5V-1" stroke="#000" stroke-width="4"/><path d="M-5 -5L5 5M-1 5H5V-1" stroke="#fff" stroke-width="2"/></g>
</g>
<g font-family="Liberation Sans, Arial, sans-serif" font-size="11" text-anchor="middle">
<text x="44.5" y="16" fill="#fff">A</text>
<text x="82.5" y="16" fill="#000">B</text>
<text x="120.5" y="16" fill="#fff">A</text>
<text x="158.5" y="16" fill="#000">B</text>
<text x="196.5" y="16" fill="#fff">A</text>
<text x="234.5" y="16" fill="#000">B</text>
<text x="272.5" y="16" fill="#fff">A</text>
<text x="310.5" y="16" fill="#000">B</text>
<text x="348.5" y="16" fill="#fff">C</text>
<text x="386.5" y="16" fill="#fff">D</text>
<text x="424.5" y="16" fill="#fff">C</text>
<text x="462.5" y="16" fill="#fff">D</text>
<text x="500.5" y="16" fill="#fff">C</text>
<text x="538.5" y="16" fill="#fff">D</text>
<text x="576.5" y="16" fill="#fff">C</text>
<text x="614.5" y="16" fill="#fff">D</text>
<text x="44.5" y="1279.5" fill="#fff">A</text>
<text x="82.5" y="1279.5" fill="#000">B</text>
<text x="120.5" y="1279.5" fill="#fff">A</text>
<text x="158.5" y="1279.5" fill="#000">B</text>
<text x="196.5" y="1279.5" fill="#fff">A</text>
<text x="234.5" y="1279.5" fill="#000">B</text>
<text x="272.5" y="1279.5" fill="#fff">A</text>
<text x="310.5" y="1279.5" fill="#000">B</text>
<text x="348.5" y="1279.5" fill="#fff">C</text>
<text x="386.5" y="1279.5" fill="#fff">D</text>
<text x="424.5" y="1279.5" fill="#fff">C</text>
<text x="462.5" y="1279.5" fill="#fff">D</text>
<text x="500.5" y="1279.5" fill="#fff">C</text>
<text x="538.5" y="1279.5" fill="#fff">D</text>
<text x="576.5" y="1279.5" fill="#fff">C</text>
<text x="614.5" y="1279.5" fill="#fff">D</text>
</g>
<text x="329" y="649" text-anchor="middle" font-family="Liberation Sans, Arial, sans-serif" font-weight="bold" font-size="14" fill="#333" stroke="#fff" stroke-opacity="0.6" stroke-width="3" paint-order="stroke" stroke-linejoin="round">BRACELETBOOK.COM</text>
</svg>
</body></html>
